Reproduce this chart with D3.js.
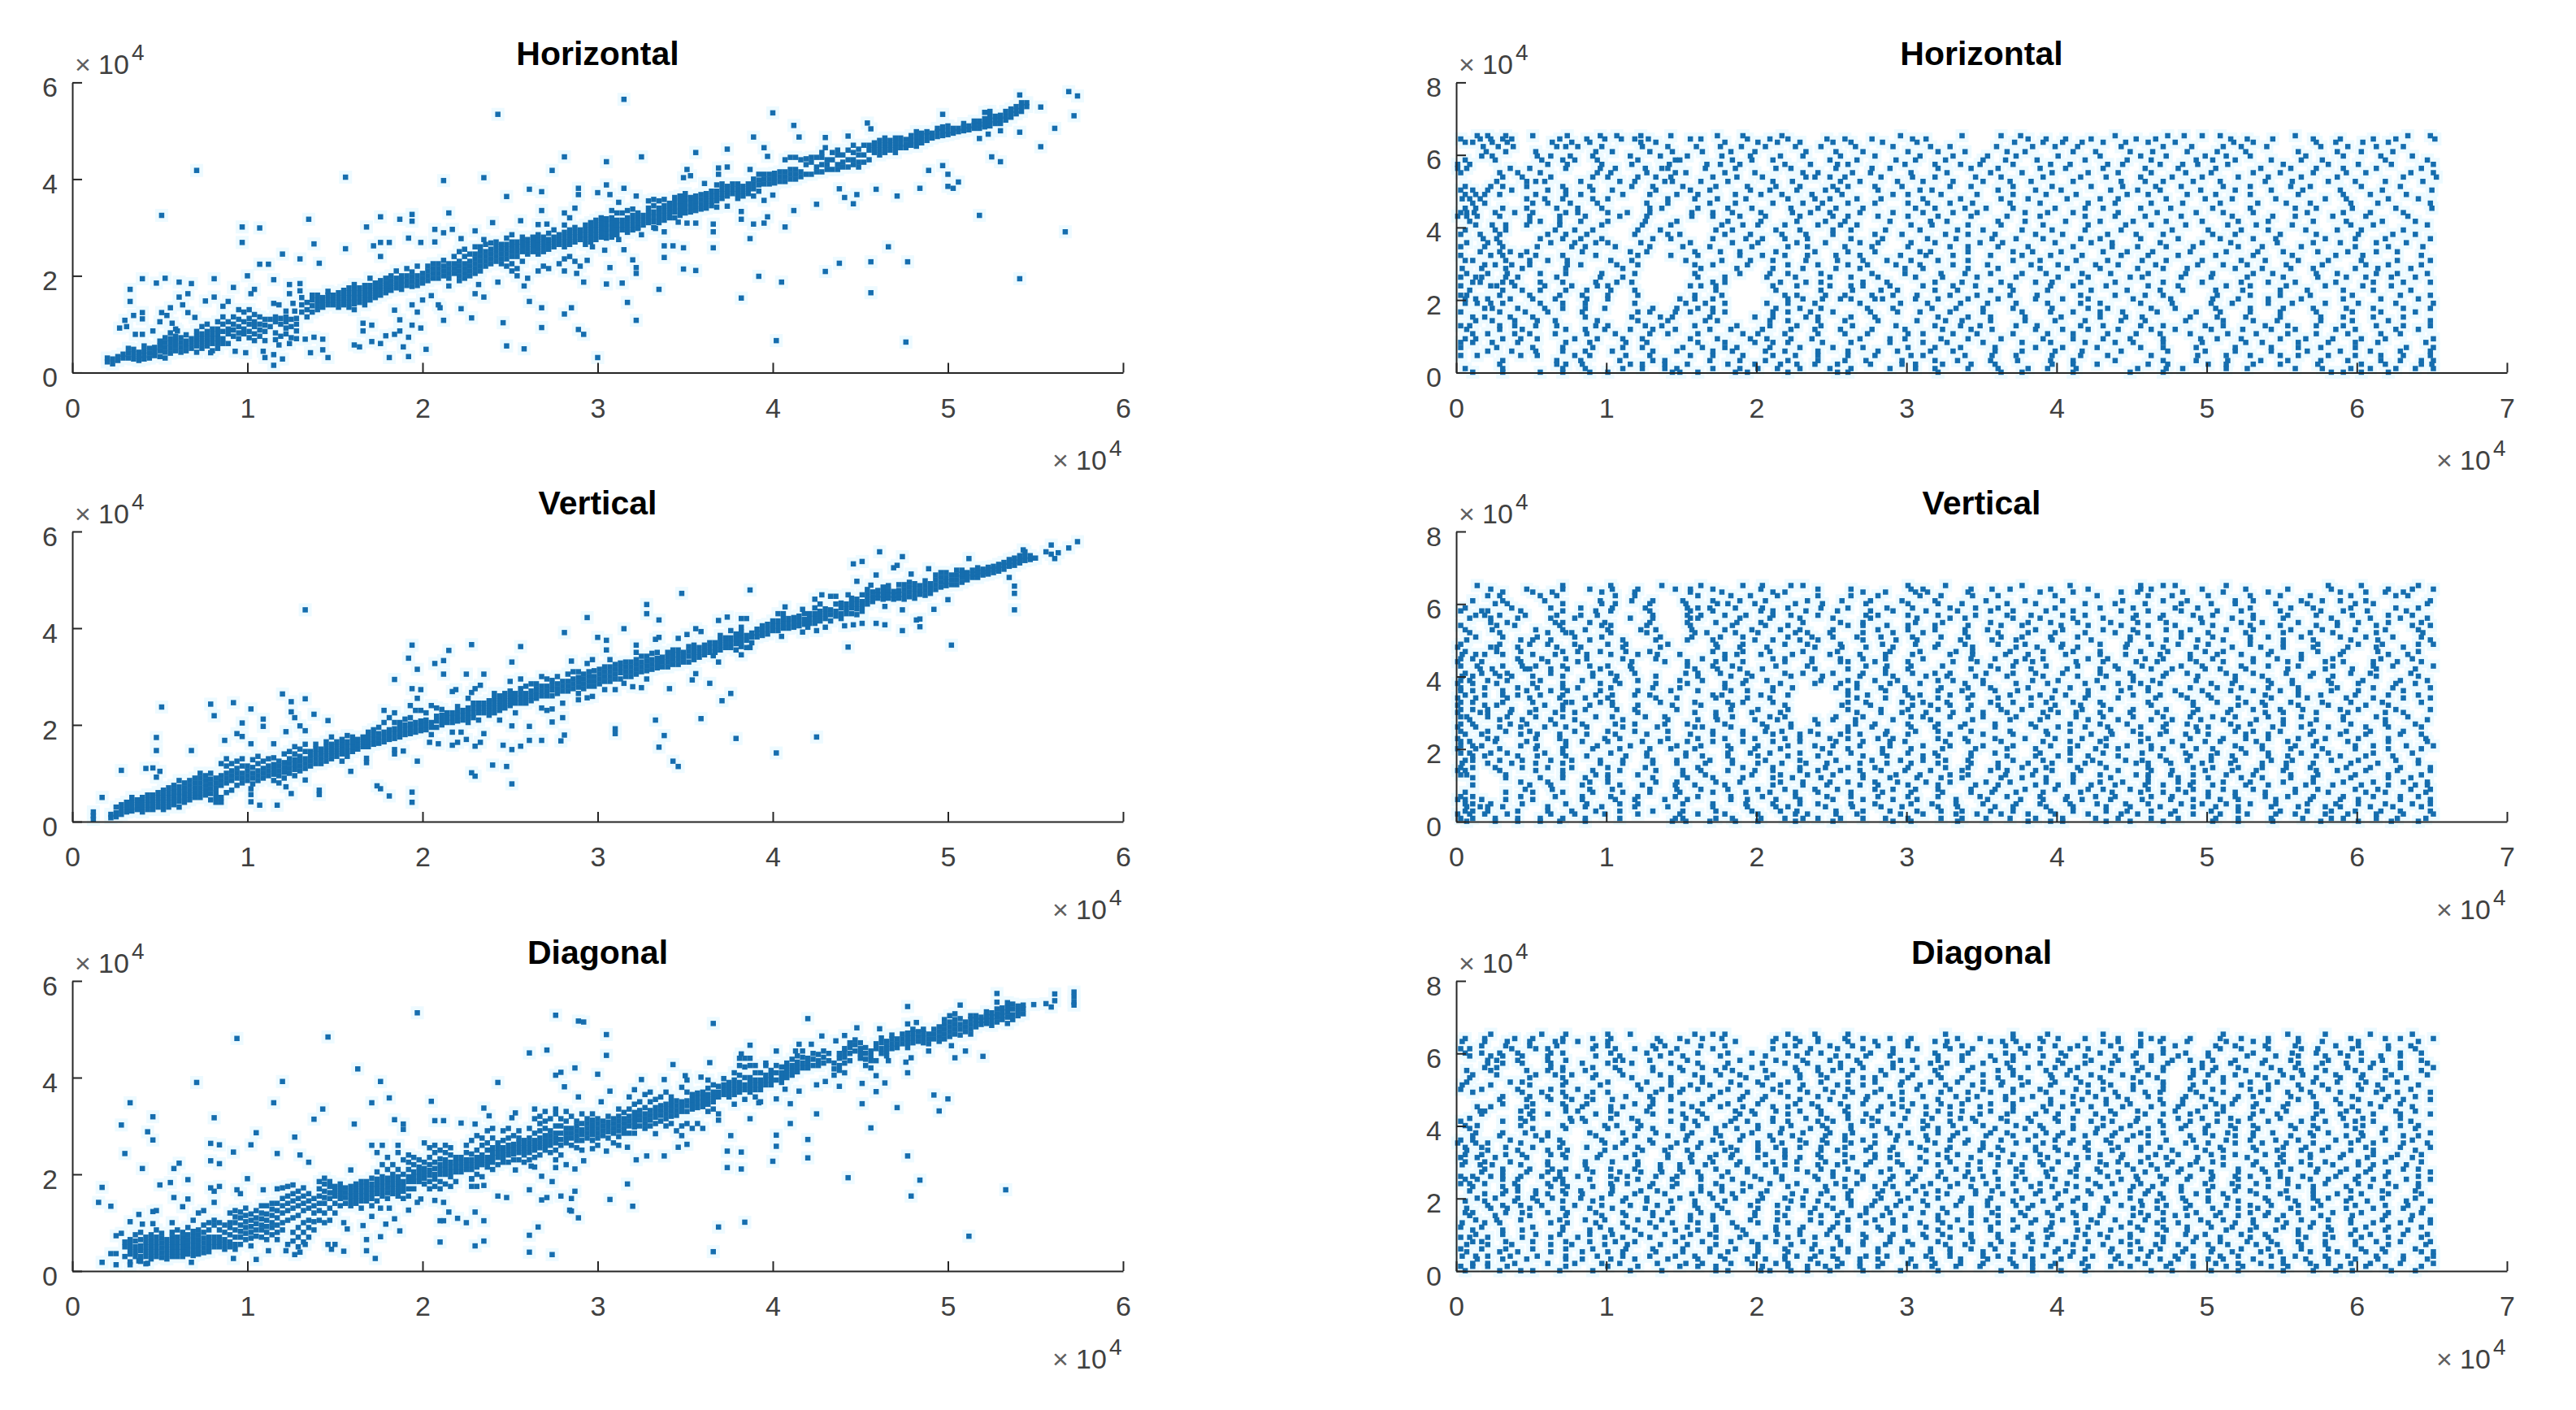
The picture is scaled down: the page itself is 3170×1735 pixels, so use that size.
<!DOCTYPE html>
<html>
<head>
<meta charset="utf-8">
<title>Horizontal, Vertical, Diagonal</title>
<script src="https://cdn.jsdelivr.net/npm/d3@7"></script>
<style>
  body { margin: 0; background: #fff; }
  svg { display: block; }
  text { font-family: "Liberation Sans", Arial, sans-serif; }
</style>
</head>
<body>
<svg id="chart" width="3170" height="1735"></svg>
<script>
// all values are in units of 10^4, same as the axis ticks
const titles = ["Horizontal", "Vertical", "Diagonal"];
const leftXTicks = [0, 1, 2, 3, 4, 5, 6];
const leftYTicks = [0, 2, 4, 6];
const rightXTicks = [0, 1, 2, 3, 4, 5, 6, 7];
const rightYTicks = [0, 2, 4, 6, 8];

// left column: dense band as [x, [y, y, ...]]
const horizontalBand = [[.2,[.22,.3]],[.23,[.18,.28]],[.26,[.25,.33]],[.29,[.3,.38]],[.32,[.3,.4,.5]],[.35,[.28,.38,.48]],[.38,[.25,.33,.42]],[.41,[.28,.36,.45,.55]],[.44,[.3,.4,.5]],[.47,[.35,.43,.52]],[.5,[.33,.45,.55,.65]],[.53,[.3,.42,.52,.62,.72]],[.56,[.4,.5,.6,.7,.82]],[.59,[.45,.55,.65,.75,.9]],[.62,[.42,.52,.62,.72]],[.65,[.45,.55,.65,.78]],[.68,[.5,.6,.7]],[.71,[.42,.55,.65,.75,.85]],[.74,[.5,.6,.7,.8,.95]],[.77,[.55,.65,.75,.85,1]],[.8,[.45,.6,.7,.8,.9]],[.83,[.5,.6,.7,.8,.9,1.05]],[.86,[.6,.7,.85,1,1.15]],[.89,[.8,.9,1.05]],[.92,[.75,.88,1,1.15]],[.95,[.7,.82,.95,1.1,1.3]],[.98,[.8,.9,1.05,1.25]],[1.01,[.72,.85,1,1.12,1.3]],[1.04,[.8,.95,1.05,1.2]],[1.07,[.75,.88,1,1.15]],[1.1,[.85,.98,1.1]],[1.13,[.95,1.1]],[1.16,[.68,.82,1.05,1.15]],[1.19,[.75,1,1.12]],[1.22,[.8,.92,1.05,1.15]],[1.25,[.72,.95,1.1]],[1.28,[.7,1,1.12]],[1.31,[1.25,1.4,1.55]],[1.34,[1.15,1.3,1.45]],[1.37,[1.25,1.38,1.5,1.6]],[1.4,[1.3,1.4,1.5,1.6]],[1.43,[1.35,1.45,1.55]],[1.46,[1.4,1.5,1.6,1.68]],[1.49,[1.4,1.5,1.6]],[1.52,[1.35,1.45,1.55,1.65]],[1.55,[1.4,1.5,1.6,1.7]],[1.58,[1.35,1.45,1.55,1.65,1.75]],[1.61,[1.3,1.42,1.52,1.62,1.72,1.82]],[1.64,[1.45,1.55,1.65,1.75]],[1.67,[1.4,1.5,1.6,1.7,1.8]],[1.7,[1.5,1.6,1.7,1.8,1.95]],[1.73,[1.55,1.65,1.75,1.85]],[1.76,[1.6,1.7,1.8,1.9]],[1.79,[1.65,1.75,1.85,1.95]],[1.82,[1.7,1.8,1.9,2]],[1.85,[1.75,1.85,1.95,2.1]],[1.88,[1.72,1.82,1.92,2]],[1.91,[1.8,1.9,2,2.15]],[1.94,[1.78,1.88,1.98,2.08]],[1.97,[1.8,1.9,2,2.2]],[2,[1.85,1.95,2.05]],[2.03,[1.9,2,2.1,2.2]],[2.06,[1.95,2.05,2.15,2.25]],[2.09,[1.95,2.05,2.15,2.25]],[2.12,[2,2.1,2.2,2.32]],[2.15,[1.95,2.05,2.15,2.25]],[2.18,[2.05,2.15,2.25,2.4]],[2.21,[1.9,2,2.1,2.2,2.3,2.5]],[2.24,[1.95,2.05,2.15,2.25,2.4,2.55]],[2.27,[2,2.1,2.2,2.3,2.45]],[2.3,[2.05,2.15,2.25,2.35,2.45,2.6]],[2.33,[2.1,2.2,2.3,2.4,2.5,2.6]],[2.36,[2.2,2.3,2.4,2.5,2.65]],[2.39,[2.25,2.35,2.45,2.55,2.68]],[2.42,[2.3,2.4,2.5,2.6,2.7]],[2.45,[2.25,2.35,2.45,2.55,2.65]],[2.48,[2.2,2.35,2.45,2.55,2.65,2.78]],[2.51,[2.1,2.25,2.4,2.5,2.6,2.7,2.85]],[2.54,[2,2.15,2.4,2.5,2.6,2.7]],[2.57,[2.3,2.5,2.6,2.7,2.8]],[2.6,[1.95,2.45,2.55,2.65,2.75]],[2.63,[2.5,2.6,2.7,2.8]],[2.66,[2.1,2.45,2.55,2.65,2.75,2.85]],[2.69,[2.2,2.5,2.6,2.7,2.8]],[2.72,[2.15,2.55,2.65,2.75,2.88]],[2.75,[2.6,2.7,2.8,2.95]],[2.78,[2.25,2.65,2.75,2.85]],[2.81,[2.1,2.35,2.6,2.7,2.8,2.9,3.05,3.3]],[2.84,[2.4,2.65,2.75,2.85,2.95,3.2]],[2.87,[2.3,2.7,2.8,2.9,3,3.4]],[2.9,[2.2,2.75,2.85,2.95]],[2.93,[2.65,2.75,2.85,2.95,3.05]],[2.96,[2.7,2.8,2.9,3,3.1]],[2.99,[2.75,2.85,2.95,3.05,3.15]],[3.02,[2.8,2.9,3,3.1,3.2]],[3.05,[2.78,2.88,2.98,3.08,3.18]],[3.08,[2.8,2.9,3,3.1,3.2,3.35]],[3.11,[2.85,2.95,3.05,3.15,3.3]],[3.14,[2.95,3.05,3.15,3.3]],[3.17,[2.9,3,3.1,3.2,3.35]],[3.2,[2.95,3.05,3.15,3.25,3.38]],[3.23,[3,3.1,3.2,3.3]],[3.26,[3.05,3.15,3.25]],[3.29,[3.1,3.2,3.3,3.4,3.55]],[3.32,[3,3.12,3.22,3.32,3.45,3.58]],[3.35,[3.1,3.2,3.3,3.4,3.55]],[3.38,[3.15,3.25,3.35,3.45,3.58]],[3.41,[3.2,3.3,3.4,3.5]],[3.44,[3.2,3.32,3.42,3.52,3.62]],[3.47,[3.25,3.35,3.45,3.55,3.65]],[3.5,[3.3,3.4,3.5,3.6,3.7]],[3.53,[3.32,3.42,3.52,3.62]],[3.56,[3.35,3.45,3.55,3.65]],[3.59,[3.38,3.48,3.58,3.68]],[3.62,[3.4,3.5,3.6,3.7]],[3.65,[3.45,3.55,3.65,3.75]],[3.68,[3.42,3.55,3.65,3.75,3.88]],[3.71,[3.6,3.7,3.8,3.9]],[3.74,[3.65,3.75,3.85]],[3.77,[3.7,3.8,3.9]],[3.8,[3.6,3.7,3.8,3.9]],[3.83,[3.65,3.75,3.85]],[3.86,[3.7,3.8,3.9]],[3.89,[3.8,3.9,4]],[3.92,[3.75,3.88,3.98,4.1]],[3.95,[3.9,4,4.1]],[3.98,[3.9,4,4.1]],[4.01,[3.92,4.02,4.12]],[4.04,[3.95,4.05,4.15]],[4.07,[3.95,4.05,4.15,4.4]],[4.1,[4,4.1,4.2,4.45]],[4.13,[4,4.1,4.2,4.45]],[4.16,[4.05,4.15,4.4]],[4.19,[4.1,4.3,4.42]],[4.22,[4.1,4.35,4.45]],[4.25,[4.15,4.25,4.45]],[4.28,[4.15,4.3,4.45,4.55]],[4.31,[4.2,4.3,4.4]],[4.34,[4.2,4.4,4.55]],[4.37,[4.2,4.3,4.5,4.6]],[4.4,[4.25,4.35,4.5]],[4.43,[4.25,4.4,4.6]],[4.46,[4.3,4.4,4.55,4.7]],[4.49,[4.25,4.35,4.5,4.62]],[4.52,[4.35,4.5,4.7]],[4.55,[4.4,4.6,4.7]],[4.58,[4.55,4.65,4.75]],[4.61,[4.5,4.6,4.7,4.8]],[4.64,[4.55,4.65,4.75,4.85]],[4.67,[4.6,4.7,4.8]],[4.7,[4.55,4.65,4.75,4.85]],[4.73,[4.65,4.75,4.85]],[4.76,[4.65,4.72,4.82]],[4.79,[4.7,4.8,4.9]],[4.82,[4.68,4.78,4.88,4.98]],[4.85,[4.75,4.85,4.95]],[4.88,[4.8,4.9,4.98]],[4.91,[4.85,4.95]],[4.94,[4.88,4.98,5.05]],[4.97,[4.9,5,5.08]],[5,[4.92,5,5.1]],[5.03,[4.95,5.05]],[5.06,[4.98,5.05]],[5.09,[5,5.08,5.15]],[5.12,[5.02,5.1]],[5.15,[5.05,5.12,5.2]],[5.18,[5.05,5.13,5.2]],[5.21,[5.08,5.15,5.25,5.38]],[5.24,[5.1,5.2,5.3,5.4]],[5.27,[5.15,5.22,5.3]],[5.3,[5.15,5.25,5.32]],[5.33,[5.22,5.3,5.4]],[5.36,[5.28,5.36,5.45]],[5.39,[5.35,5.42,5.5]],[5.42,[5.4,5.5,5.58]],[5.45,[5.5,5.58]]];

const verticalBand = [[.12,[.05,.12,.2]],[.22,[.08,.15]],[.25,[.1,.18,.3]],[.28,[.15,.25,.35]],[.31,[.2,.3,.4]],[.34,[.22,.3,.4,.5]],[.37,[.25,.35,.45]],[.4,[.2,.3,.4,.5]],[.43,[.25,.35,.45,.55]],[.46,[.25,.35,.45,.55]],[.49,[.3,.4,.5,.6]],[.52,[.25,.35,.45,.55,.65]],[.55,[.3,.4,.5,.6,.7]],[.58,[.35,.45,.55,.65,.75]],[.61,[.3,.42,.52,.62,.72,.85]],[.64,[.4,.5,.6,.7,.8]],[.67,[.45,.55,.65,.75,.85]],[.7,[.5,.6,.7,.8,.9]],[.73,[.5,.6,.7,.8,.9,1]],[.76,[.55,.65,.75,.85,.95]],[.79,[.45,.58,.68,.78,.88,1]],[.82,[.4,.5,.6,.7,.8,.9]],[.85,[.4,.5,.75,.85,.95,1.2]],[.88,[.6,.8,.9,1,1.15,1.3]],[.91,[.65,.85,.95,1.05,1.2]],[.94,[.75,.9,1,1.1,1.25]],[.97,[.8,.9,1,1.15,1.3]],[1,[.85,.95,1.05,1.15]],[1.03,[.78,.9,1,1.12,1.28]],[1.06,[.85,.95,1.05,1.2,1.35]],[1.09,[.9,1,1.1,1.25]],[1.12,[.95,1.05,1.15,1.3]],[1.15,[.85,.98,1.08,1.18,1.32]],[1.18,[.8,.95,1.05,1.15,1.25]],[1.21,[.9,1.02,1.12,1.22,1.4]],[1.24,[1,1.1,1.2,1.3,1.45]],[1.27,[.95,1.08,1.18,1.28,1.4,1.55]],[1.3,[1.05,1.15,1.25,1.35,1.5]],[1.33,[1.1,1.2,1.3,1.45,1.6]],[1.36,[1.15,1.25,1.35,1.45]],[1.39,[1.2,1.3,1.4,1.5,1.6]],[1.42,[1.2,1.3,1.4,1.5]],[1.45,[1.25,1.35,1.45,1.55,1.65]],[1.48,[1.3,1.4,1.5,1.6,1.75]],[1.51,[1.35,1.45,1.55,1.65]],[1.54,[1.25,1.4,1.5,1.6,1.7]],[1.57,[1.35,1.45,1.55,1.65,1.78]],[1.6,[1.45,1.55,1.65,1.75]],[1.63,[1.5,1.6,1.7]],[1.66,[1.55,1.65,1.75]],[1.69,[1.55,1.65,1.75,1.85]],[1.72,[1.6,1.7,1.8,1.9]],[1.75,[1.62,1.72,1.82,1.95]],[1.78,[1.65,1.75,1.85,2.05,2.3]],[1.81,[1.7,1.8,1.9,2.15]],[1.84,[1.72,1.82,1.92,2.05,2.25]],[1.87,[1.75,1.85,1.95,2.05]],[1.9,[1.8,1.9,2,2.12]],[1.93,[1.82,1.92,2.02,2.15,2.4]],[1.96,[1.85,1.95,2.05,2.3]],[1.99,[1.88,1.98,2.08,2.3]],[2.02,[1.9,2,2.1,2.25]],[2.05,[1.8,1.95,2.05,2.4]],[2.08,[1.95,2.08,2.18,2.35]],[2.11,[2,2.1,2.2,2.32]],[2.14,[2.05,2.15,2.25]],[2.17,[2.05,2.15,2.25]],[2.2,[2.08,2.18,2.28,2.38]],[2.23,[2.1,2.2,2.3]],[2.26,[2.05,2.15,2.25,2.35,2.55]],[2.29,[2.15,2.25,2.35,2.45]],[2.32,[2.1,2.25,2.35,2.45]],[2.35,[2.25,2.35,2.45]],[2.38,[2.2,2.3,2.4,2.5]],[2.41,[2.25,2.35,2.45,2.55,2.65]],[2.44,[2.1,2.3,2.4,2.5,2.6]],[2.47,[2.35,2.45,2.55,2.65]],[2.5,[2.4,2.5,2.6,2.7,2.9]],[2.53,[2.25,2.45,2.55,2.65]],[2.56,[2.45,2.55,2.65,2.75,2.95]],[2.59,[2.45,2.55,2.65,2.8]],[2.62,[2.5,2.6,2.7,2.85]],[2.65,[2.55,2.65,2.75,2.85]],[2.68,[2.35,2.6,2.7,2.8,3]],[2.71,[2.3,2.6,2.7,2.8,2.95]],[2.74,[2.6,2.72,2.82,2.92]],[2.77,[2.65,2.75,2.85,3]],[2.8,[2.15,2.45,2.7,2.8,2.9]],[2.83,[2.7,2.8,2.9,3.05]],[2.86,[2.75,2.85,2.95,3.1]],[2.89,[2.65,2.78,2.88,2.98,3.1]],[2.92,[2.75,2.85,2.95,3.05]],[2.95,[2.8,2.9,3,3.1]],[2.98,[2.8,2.9,3,3.12]],[3.01,[2.85,2.95,3.05,3.15]],[3.04,[2.9,3,3.1,3.2]],[3.07,[2.9,3,3.1,3.2,3.35]],[3.1,[2.95,3.05,3.15,3.25]],[3.13,[2.95,3.08,3.18,3.28]],[3.16,[3,3.1,3.2,3.3]],[3.19,[3,3.1,3.2,3.3]],[3.22,[3.05,3.15,3.25,3.35,3.5]],[3.25,[3.1,3.2,3.3,3.42]],[3.28,[2.95,3.12,3.22,3.32,3.42]],[3.31,[3.15,3.25,3.35,3.48]],[3.34,[3.18,3.28,3.38,3.5]],[3.37,[3.2,3.3,3.4]],[3.4,[3.2,3.3,3.4,3.5]],[3.43,[3.25,3.35,3.45,3.55]],[3.46,[3.25,3.35,3.45,3.55]],[3.49,[3.3,3.4,3.5]],[3.52,[3.3,3.42,3.52,3.62]],[3.55,[3.35,3.45,3.55,3.65]],[3.58,[3.4,3.5,3.6]],[3.61,[3.45,3.55,3.65]],[3.64,[3.5,3.6,3.7]],[3.67,[3.5,3.6,3.7]],[3.7,[3.55,3.65,3.75,3.85]],[3.73,[3.6,3.7,3.8]],[3.76,[3.6,3.7,3.8,3.95]],[3.79,[3.55,3.68,3.78,3.88]],[3.82,[3.62,3.72,3.82,3.92,4.02]],[3.85,[3.6,3.75,3.85]],[3.88,[3.7,3.82,3.9]],[3.91,[3.82,3.9,3.98]],[3.94,[3.85,3.95,4.05]],[3.97,[3.88,3.98,4.08]],[4,[3.95,4.05,4.15]],[4.03,[3.95,4.05,4.15,4.3]],[4.06,[4,4.1,4.2,4.3]],[4.09,[4,4.1,4.2]],[4.12,[4.02,4.12,4.22]],[4.15,[4.05,4.15,4.25]],[4.18,[4.08,4.18,4.3]],[4.21,[4.1,4.2,4.3]],[4.24,[4.1,4.2,4.3,4.42,4.6]],[4.27,[4.15,4.25,4.35,4.5]],[4.3,[4.2,4.3,4.4]],[4.33,[4.15,4.28,4.38]],[4.36,[4.25,4.35,4.5]],[4.39,[4.2,4.3,4.42,4.52]],[4.42,[4.3,4.4,4.5]],[4.45,[4.3,4.42,4.52,4.62]],[4.48,[4.28,4.4,4.5,4.6]],[4.51,[4.35,4.45,4.55]],[4.54,[4.5,4.6,4.7,4.8]],[4.57,[4.55,4.65,4.75]],[4.6,[4.62,4.7,4.78]],[4.63,[4.6,4.68,4.76,4.85]],[4.66,[4.62,4.7,4.78,4.88]],[4.69,[4.6,4.68,4.76]],[4.72,[4.62,4.7,4.78,4.9]],[4.75,[4.6,4.7,4.8,4.9]],[4.78,[4.65,4.75,4.85,4.95]],[4.81,[4.62,4.72,4.82,4.92]],[4.84,[4.7,4.78,4.88]],[4.87,[4.68,4.78,4.88,4.98]],[4.9,[4.72,4.82,4.92]],[4.93,[4.8,4.9,5,5.1]],[4.96,[4.85,4.95,5.05,5.15]],[4.99,[4.88,4.96,5.05,5.15]],[5.02,[4.9,5,5.1]],[5.05,[4.9,5,5.1,5.2]],[5.08,[4.95,5.05,5.12,5.2]],[5.11,[5,5.08,5.15]],[5.14,[5.05,5.12,5.2]],[5.17,[5.05,5.12,5.18,5.25]],[5.2,[5.1,5.16,5.22]],[5.23,[5.12,5.2,5.26]],[5.26,[5.15,5.22,5.28]],[5.29,[5.18,5.25,5.32]],[5.32,[5.22,5.3,5.36]],[5.35,[5.28,5.35,5.42]],[5.38,[5.3,5.38,5.45]],[5.41,[5.35,5.42,5.5]],[5.44,[5.4,5.48,5.58]],[5.47,[5.42,5.5]],[5.5,[5.45]]];

const diagonalBand = [[.3,[.3,.5,.6]],[.33,[.35,.45,.55,.65]],[.36,[.3,.4,.5,.62,.75]],[.39,[.2,.3,.42,.52,.65,.8]],[.42,[.15,.3,.4,.5,.6,.7]],[.45,[.25,.35,.45,.55,.65,.75]],[.48,[.3,.4,.5,.6,.7,.85]],[.51,[.28,.38,.48,.58,.68,.78]],[.54,[.25,.35,.45,.55,.65]],[.57,[.3,.4,.5,.6,.7,.8,1]],[.6,[.3,.4,.5,.6,.7,.85]],[.63,[.3,.4,.5,.6,.7,.8]],[.66,[.35,.45,.55,.65,.75,.9]],[.69,[.32,.42,.52,.62,.72,.82,1.05]],[.72,[.35,.45,.55,.65,.75,.85,1.2]],[.75,[.38,.48,.58,.68,.8,.95,1.25]],[.78,[.4,.5,.6,.7,.85,1]],[.81,[.5,.6,.7,.95,1.05]],[.84,[.5,.6,.7,.85,1]],[.87,[.45,.55,.65,.8,.95]],[.9,[.5,.6,.75,.9,1,1.2]],[.93,[.45,.55,.7,.85,1,1.12,1.25]],[.96,[.55,.7,.82,.95,1.1,1.22]],[.99,[.65,.78,.9,1.02,1.15,1.3]],[1.02,[.68,.8,.92,1.05,1.18]],[1.05,[.72,.85,.98,1.1,1.25]],[1.08,[.7,.85,.95,1.08,1.2,1.35]],[1.11,[.65,.8,.92,1.05,1.18,1.35]],[1.14,[.75,.9,1,1.15,1.28,1.4]],[1.17,[.8,.95,1.1,1.25,1.4,1.7]],[1.2,[.85,1,1.2,1.35,1.5,1.72]],[1.23,[.55,1.05,1.25,1.4,1.55,1.75]],[1.26,[.62,.8,1.1,1.3,1.45,1.6,1.78]],[1.29,[.5,.7,.9,1.15,1.35,1.5,1.65]],[1.32,[.6,.8,1,1.25,1.4,1.55,1.72]],[1.35,[.7,.9,1.05,1.3,1.45,1.6]],[1.38,[.85,1.02,1.2,1.35,1.5]],[1.41,[1.05,1.25,1.4,1.55,1.7,1.85]],[1.44,[1,1.2,1.4,1.52,1.65,1.8,1.92]],[1.47,[1.05,1.3,1.5,1.62,1.75,1.85]],[1.5,[1.2,1.4,1.55,1.65,1.75]],[1.53,[1.35,1.5,1.6,1.7,1.8]],[1.56,[1.4,1.52,1.62,1.72]],[1.59,[1.35,1.45,1.55,1.65,1.75]],[1.62,[1.4,1.5,1.6,1.7,1.8]],[1.65,[1.3,1.45,1.55,1.65,1.75,1.85]],[1.68,[1.45,1.55,1.65,1.75,1.85]],[1.71,[1.35,1.5,1.6,1.7,1.8,1.92,2.6]],[1.74,[1.45,1.6,1.7,1.8,1.9,2.05,2.45]],[1.77,[1.55,1.65,1.75,1.85,1.95,2.2,2.6]],[1.8,[1.5,1.62,1.72,1.82,1.92,2.1,2.35]],[1.83,[1.6,1.7,1.8,1.9,2,2.2]],[1.86,[1.55,1.65,1.75,1.85,1.95,2.1,2.45,2.6]],[1.89,[1.5,1.65,1.75,1.85,2,2.3]],[1.92,[1.55,1.7,1.85,1.95,2.1,2.25,2.4]],[1.95,[1.7,1.85,1.95,2.05,2.2,2.35]],[1.98,[1.85,1.95,2.05,2.15,2.3]],[2.01,[1.8,1.92,2.02,2.12,2.25,2.65]],[2.04,[1.7,1.85,1.98,2.08,2.2,2.35,2.55]],[2.07,[1.75,1.9,2,2.12,2.25,2.45,2.6]],[2.1,[1.7,1.85,2,2.1,2.2,2.32,2.5]],[2.13,[1.8,2,2.1,2.2,2.3,2.45,2.6]],[2.16,[1.75,1.95,2.05,2.15,2.25,2.4,2.55]],[2.19,[1.85,2.05,2.15,2.25,2.35]],[2.22,[2.05,2.15,2.25,2.35]],[2.25,[2.1,2.2,2.3,2.45,2.6]],[2.28,[1.75,1.9,2.1,2.2,2.3,2.42,2.7]],[2.31,[1.75,2,2.15,2.25,2.35,2.5,2.8]],[2.34,[1.95,2.2,2.3,2.4,2.6,2.75]],[2.37,[2.15,2.25,2.35,2.5,2.65,2.9]],[2.4,[2.1,2.25,2.35,2.45,2.55,2.75,2.95]],[2.43,[2.2,2.35,2.45,2.55,2.65]],[2.46,[2.25,2.35,2.45,2.55,2.7,2.9]],[2.49,[2.25,2.4,2.5,2.6,2.75,2.95]],[2.52,[2.3,2.42,2.52,2.62,2.8]],[2.55,[2.3,2.45,2.55,2.65,2.75,2.9]],[2.58,[2.25,2.4,2.5,2.6,2.7]],[2.61,[2.3,2.45,2.55,2.65,2.75,2.95]],[2.64,[2.15,2.35,2.5,2.6,2.7,2.85,3.15,3.35]],[2.67,[2.4,2.55,2.65,2.75,2.9,3.05,3.2]],[2.7,[2.5,2.6,2.7,2.8,2.95,3.1,3.3]],[2.73,[2.45,2.6,2.7,2.8,2.9,3.15]],[2.76,[2.3,2.5,2.65,2.75,2.85,3,3.25,3.35]],[2.79,[2.4,2.6,2.72,2.85,3,3.15]],[2.82,[2.2,2.65,2.75,2.85,2.95,3.1,3.3]],[2.85,[2.6,2.75,2.85,2.95,3.2]],[2.88,[2.55,2.7,2.8,2.9,3,3.1]],[2.91,[2.5,2.7,2.82,2.92,3.05,3.25]],[2.94,[2.75,2.85,2.95,3.05,3.15]],[2.97,[2.7,2.82,2.92,3.02,3.12,3.25]],[3,[2.6,2.75,2.85,2.95,3.05,3.15]],[3.03,[2.8,2.9,3,3.1]],[3.06,[2.75,2.88,2.98,3.08,3.2]],[3.09,[2.65,2.85,2.95,3.05,3.15]],[3.12,[2.6,2.78,2.9,3,3.1,3.2,3.35]],[3.15,[2.85,2.95,3.05,3.15,3.28]],[3.18,[2.85,3,3.1,3.2,3.35,3.6]],[3.21,[2.85,2.98,3.08,3.18,3.28,3.45,3.75]],[3.24,[3,3.12,3.22,3.32,3.5]],[3.27,[2.95,3.05,3.15,3.25,3.38,3.65]],[3.3,[3,3.12,3.22,3.32,3.5,3.7]],[3.33,[3.05,3.18,3.28,3.38,3.55]],[3.36,[3.1,3.22,3.32,3.42,3.6]],[3.39,[3,3.15,3.25,3.35,3.45,3.7]],[3.42,[3.05,3.2,3.3,3.4,3.5,3.6]],[3.45,[2.9,3.22,3.32,3.42,3.52]],[3.48,[2.8,3,3.3,3.4,3.5,3.8]],[3.51,[3.05,3.3,3.42,3.52,3.7,3.95]],[3.54,[2.95,3.35,3.45,3.55,3.65]],[3.57,[3.05,3.38,3.48,3.58,3.68]],[3.6,[2.95,3.4,3.5,3.6,3.7]],[3.63,[3.3,3.45,3.55,3.65,3.78,3.95]],[3.66,[3.35,3.5,3.6,3.7,3.85]],[3.69,[3.25,3.6,3.7,3.82]],[3.72,[3.65,3.75,3.85,3.98]],[3.75,[3.6,3.7,3.8,3.9]],[3.78,[3.45,3.65,3.75,3.85,3.95,4.1]],[3.81,[3.7,3.8,3.9,4.05,4.25,4.4]],[3.84,[3.55,3.75,3.85,4,4.22,4.4]],[3.87,[3.7,3.8,3.9,4,4.25,4.4]],[3.9,[3.6,3.75,3.85,3.95,4.1,4.25]],[3.93,[3.5,3.75,3.85,3.95,4.1]],[3.96,[3.85,3.95,4.05,4.25,4.3]],[3.99,[3.85,3.95,4.05,4.15]],[4.02,[3.95,4.1,4.25]],[4.05,[3.9,4,4.1,4.22]],[4.08,[4,4.1,4.2,4.3]],[4.11,[4.05,4.15,4.25,4.38]],[4.14,[4.12,4.22,4.32,4.45]],[4.17,[4.2,4.3,4.42,4.55]],[4.2,[4.2,4.3,4.4]],[4.23,[4.25,4.38,4.5]],[4.26,[4.25,4.35,4.48]],[4.29,[4.3,4.42,4.55]],[4.32,[4.35,4.5]],[4.35,[4.05,4.18,4.3]],[4.38,[4.15,4.25,4.4,4.5]],[4.41,[4.1,4.3,4.42,4.52,4.6]],[4.44,[4.35,4.5,4.62,4.72]],[4.47,[4.55,4.68,4.78]],[4.5,[4.4,4.5,4.6,4.72]],[4.53,[4.25,4.38,4.5,4.62]],[4.56,[4.2,4.35,4.45,4.55]],[4.59,[4.35,4.6,4.7]],[4.62,[4.5,4.6,4.72,4.82]],[4.65,[4.45,4.55,4.65,4.75]],[4.68,[4.6,4.7,4.8,4.88]],[4.71,[4.62,4.7,4.8]],[4.74,[4.7,4.8,4.9]],[4.77,[4.62,4.72,4.82,4.92]],[4.8,[4.72,4.82,4.92,5]],[4.83,[4.75,4.85,4.95]],[4.86,[4.72,4.82,4.92,5]],[4.89,[4.55,4.7,4.8,4.9]],[4.92,[4.8,4.9,5]],[4.95,[4.75,4.85,4.95,5.05]],[4.98,[4.8,4.9,5,5.1,5.2]],[5.01,[4.85,4.95,5.05,5.15,5.28]],[5.04,[4.9,5,5.1,5.2,5.32]],[5.07,[4.88,5,5.1,5.22]],[5.1,[4.95,5.05,5.15]],[5.13,[4.9,5,5.1,5.2,5.28]],[5.16,[5.05,5.12,5.2,5.28]],[5.19,[5.1,5.18,5.25]],[5.22,[5.12,5.2,5.28,5.36]],[5.25,[5.08,5.18,5.26,5.34]],[5.28,[5.15,5.25,5.32,5.42]],[5.31,[5.2,5.28,5.36,5.44]],[5.34,[5.12,5.25,5.35,5.45,5.55]],[5.37,[5.2,5.3,5.42,5.52]],[5.4,[5.28,5.38,5.48]],[5.43,[5.32,5.42,5.5]]];

// left column: points away from the band as [x, y]
const horizontalStray = [[.71,4.18],[.51,3.25],[2.43,5.34],[2.81,4.46],[1.56,4.04],[2.12,3.97],[2.35,4.03],[2.74,4.18],[2.48,3.64],[2.61,3.79],[2.68,3.74],[2.68,3.35],[1.35,3.17],[.97,3.01],[1.07,2.99],[.97,2.69],[1.68,3.01],[1.76,3.22],[1.87,3.17],[1.94,3.27],[1.94,3.13],[2.15,3.3],[2.4,3.1],[2.56,3.14],[2.66,3.06],[2.71,3.07],[2.07,2.96],[2.12,2.89],[2.17,2.96],[2.3,2.93],[1.38,2.66],[1.2,2.45],[1.3,2.35],[1.41,2.26],[1.07,2.24],[1.12,2.24],[1.56,2.56],[1.92,2.78],[1.99,2.69],[2.07,2.7],[1.81,2.69],[1.72,2.62],[1.76,2.69],[1.76,2.4],[2.22,2.77],[2.35,2.75],[.4,1.94],[.48,1.85],[.53,1.95],[.61,1.87],[.68,1.84],[.81,1.94],[.33,1.72],[.33,1.47],[1,2],[.92,1.76],[1.04,1.72],[1.02,1.63],[1.15,1.92],[1.24,1.82],[1.3,1.84],[1.24,1.63],[1.3,1.69],[.61,1.56],[.66,1.63],[.63,1.4],[.76,1.48],[.81,1.56],[.89,1.47],[.86,1.37],[.35,1.18],[.4,1.24],[.4,1.11],[.3,1.08],[.27,.92],[.31,.95],[.51,1.24],[.56,1.34],[.54,1.18],[.66,1.24],[.7,1.14],[1.15,1.43],[1.18,1.4],[1.22,1.27],[1.26,1.43],[1.27,1.27],[.36,.79],[.4,.79],[.46,.86],[.5,1.05],[.57,1.02],[.6,.86],[.89,.6],[.93,.44],[.99,.41],[.79,.41],[1.04,.66],[1.1,.66],[1.09,.44],[1.1,.31],[1.15,.37],[1.15,.15],[1.2,.28],[1.18,.57],[1.24,.6],[1.28,.86],[1.33,.69],[1.38,.73],[1.43,.69],[1.36,.41],[1.43,.47],[1.46,.31],[1.66,1.02],[1.71,.98],[1.66,.86],[1.61,.57],[1.64,.53],[1.71,.64],[1.76,.6],[1.79,.76],[1.84,.79],[1.87,.86],[1.92,.73],[1.89,.53],[1.81,.31],[1.92,.33],[2.02,.48],[1.94,.98],[1.99,.92],[1.87,1.09],[1.84,1.29],[1.97,1.25],[1.94,1.4],[2,1.5],[2.05,1.59],[2.09,1.4],[2.1,1.34],[2.12,1.08],[2.22,1.32],[2.28,1.13],[2.46,1.03],[2.68,.93],[2.48,.55],[2.58,.49],[2.61,1.47],[2.68,1.34],[2.81,1.21],[2.35,1.56],[2.3,1.63],[2.43,1.87],[2.58,1.79],[2.15,1.79],[2.32,1.82],[3.15,5.65],[4,5.37],[4.12,5.11],[4.15,4.87],[3.89,4.87],[3.25,4.46],[3.56,4.55],[3.74,4.62],[3.05,4.36],[4.3,4.86],[4.3,4.65],[4.43,4.89],[4.54,5.16],[4.56,5.04],[3.95,4.65],[3.97,4.47],[4.97,5.34],[5.41,5.74],[5.69,5.81],[5.74,5.72],[5.72,5.31],[5.53,5.49],[5.61,5.05],[5.53,4.67],[5.41,4.97],[5.3,5],[5.23,4.93],[5.18,4.84],[5.25,4.46],[5.3,4.36],[4.89,4.18],[4.97,4.28],[5,4.1],[5,3.85],[5.03,3.81],[5.06,3.94],[4.84,3.81],[4.71,3.65],[4.59,3.79],[4.48,3.68],[4.38,3.8],[4.41,3.62],[4.46,3.49],[4.25,3.48],[4.12,3.35],[5.18,3.25],[5.67,2.91],[4.66,2.6],[4.56,2.29],[4.77,2.29],[4.38,2.26],[4.3,2.09],[4.56,1.65],[5.41,1.94],[3.92,1.99],[4.05,1.87],[3.82,1.54],[4.76,.63],[4.02,.66],[3,.31],[3.22,1.08],[3.17,1.45],[2.92,.79],[2.89,.89],[2.85,1.34],[3.35,1.72],[3.14,1.85],[3.05,1.83],[2.92,1.87],[2.88,2.05],[3.22,2.05],[3.22,2.17],[3.07,2.17],[3.2,2.33],[2.94,2.32],[3.49,2.14],[3.56,2.11],[3.38,2.38],[3.15,2.54],[3.04,2.53],[2.97,2.6],[3.38,2.62],[3.43,2.62],[3.49,2.58],[3.66,2.58],[3.87,2.77],[3.66,2.91],[4.07,3.01],[3.89,3.07],[3.95,3.09],[3.97,3.22],[3.82,3.17],[3.82,3.33],[3.74,3.44],[4,3.67],[3.95,3.56],[3.89,3.65],[3.25,2.85],[3.23,2.98],[3.12,2.75],[3.38,2.91],[3.33,2.98],[3.46,3.11],[3.51,3.09],[3.56,3.09],[3.66,3.07],[3.15,3.81],[3.05,3.88],[3,3.72],[3.07,3.68],[2.89,3.81],[2.89,3.68],[3.53,4.07],[3.49,4.03],[3.51,4.2],[3.61,3.91],[3.69,4.23],[3.74,4.25],[3.69,4.1],[3.87,4.2],[3.12,3.52],[3.22,3.65]];

const verticalStray = [[1.33,4.38],[2.81,3.91],[1.94,3.65],[1.92,3.38],[2.15,3.54],[2.28,3.66],[2.56,3.62],[2.07,3.27],[2.12,3.33],[2.51,3.3],[1.97,3.15],[2.12,3.05],[2.25,3.05],[2.35,3.05],[1.84,2.94],[1.94,2.75],[1.99,2.73],[1.97,2.55],[2.19,2.73],[2.17,2.69],[2.33,2.82],[2.3,2.75],[2.28,2.67],[1.2,2.64],[1.25,2.48],[1.33,2.54],[.79,2.43],[.92,2.46],[.51,2.37],[1.02,2.33],[.81,2.19],[1.38,2.22],[1.25,2.27],[1.27,2.15],[1.09,2.12],[1.09,1.97],[.97,2.04],[1.46,2.09],[1.3,1.98],[1.33,1.88],[1.22,1.86],[.94,1.82],[.97,1.76],[.87,1.68],[.48,1.74],[.48,1.47],[.68,1.47],[1.02,1.61],[1.15,1.61],[.28,1.06],[.42,1.1],[.46,1.11],[.5,1.04],[.48,.92],[.17,.5],[1.02,.68],[1.02,.56],[1.02,.41],[1.07,.34],[1.17,.34],[1.25,.58],[1.22,.72],[1.33,.86],[1.41,.65],[1.41,.56],[1.59,1.04],[1.68,1.31],[1.68,1.22],[1.74,.74],[1.76,.68],[1.81,.53],[1.94,.61],[1.94,.4],[1.97,1.25],[1.84,1.4],[1.89,1.46],[1.84,1.49],[2.04,1.64],[2.09,1.61],[2.17,1.58],[2.2,1.64],[2.17,1.85],[2.22,1.85],[2.25,1.7],[2.3,1.56],[2.33,1.64],[2.35,1.82],[2.28,1.01],[2.3,.94],[2.4,1.17],[2.48,1.14],[2.51,.78],[2.46,1.58],[2.51,1.49],[2.56,1.56],[2.61,1.68],[2.68,1.68],[2.79,1.67],[2.81,1.79],[2.61,1.97],[2.51,1.98],[2.74,2.06],[2.74,2.33],[2.94,4.22],[3.28,4.49],[3.28,4.3],[3.48,4.72],[3.87,4.79],[3.35,4.17],[3.15,3.99],[3,3.81],[3.05,3.75],[3.05,3.55],[3.56,3.99],[3.59,3.93],[3.69,4.16],[3.74,4.23],[3.82,4.2],[3.85,4.2],[3.51,3.87],[3.46,3.79],[3.35,3.81],[3.33,3.77],[3.22,3.65],[2.97,3.35],[2.94,3.27],[2.85,3.32],[4.46,5.33],[4.51,5.38],[4.61,5.58],[4.74,5.48],[4.71,5.3],[4.69,5.25],[4.59,5.1],[4.48,4.97],[4.56,4.89],[4.89,5.23],[4.79,5.12],[5.12,5.44],[5.43,5.62],[5.59,5.72],[5.74,5.79],[5.69,5.66],[5.61,5.44],[5.56,5.58],[5.63,5.56],[5.59,5.53],[5.35,5.05],[5.38,4.87],[5.38,4.72],[5.38,4.38],[5,4.59],[4.92,4.39],[4.74,4.38],[4.64,4.45],[4.84,4.19],[4.82,4.17],[4.84,4.03],[4.74,3.95],[5.02,3.65],[4.43,3.61],[4.59,4.1],[4.64,4.07],[4.51,4.1],[4.46,4.07],[4.41,4.05],[4.3,4.02],[4.25,3.95],[4.2,4.02],[4.17,3.92],[4.28,4.69],[4.33,4.66],[4.36,4.66],[4.43,4.69],[4.51,4.69],[4.07,4.44],[4.17,4.39],[4.05,3.83],[3.82,3.45],[3.87,3.6],[3.69,3.3],[3.66,3.43],[3.56,3.06],[3.54,2.93],[3.64,2.86],[3.41,2.75],[3.25,2.77],[3.2,2.79],[3.15,2.86],[3.1,2.73],[3.04,2.73],[2.97,2.59],[2.89,2.52],[2.94,2.56],[3.76,2.65],[3.71,2.5],[3.33,2.1],[3.59,2.13],[3.1,1.92],[3.1,1.82],[3.38,1.78],[3.35,1.54],[3.79,1.72],[4.25,1.75],[4.02,1.42],[3.43,1.25],[3.46,1.14]];

const diagonalStray = [[1.97,5.34],[2.76,5.29],[.94,4.81],[1.46,4.84],[2.61,4.51],[2.71,4.57],[1.63,4.18],[1.76,3.92],[1.2,3.92],[.71,3.9],[2.43,3.9],[2.79,4.11],[2.76,4.05],[2.81,3.81],[1.81,3.58],[1.71,3.48],[2.05,3.51],[.33,3.48],[1.15,3.48],[1.43,3.35],[.46,3.19],[.81,3.17],[1.38,3.14],[.28,3.02],[1.84,3.13],[1.89,3.04],[1.89,2.93],[1.61,3.04],[2.07,3.11],[2.12,3.11],[2.22,3.06],[2.3,3.04],[2.35,3.37],[2.38,3.21],[2.53,3.27],[2.51,3.17],[.43,2.88],[.46,2.71],[1.05,2.86],[1.27,2.77],[.79,2.64],[.84,2.61],[1.02,2.61],[.3,2.43],[.92,2.46],[1.17,2.43],[1.3,2.4],[1.35,2.25],[.79,2.28],[.84,2.22],[.4,2.12],[.58,2.12],[.61,2.23],[1.59,2.09],[.66,1.89],[1,1.91],[.5,1.78],[.56,1.83],[.17,1.73],[.15,1.42],[.22,1.34],[.79,1.72],[.84,1.75],[.81,1.65],[.81,1.42],[.94,1.68],[.96,1.6],[1.09,1.68],[.58,1.52],[.66,1.49],[.63,1.33],[.46,1.23],[.48,1.25],[.38,1.17],[.33,1.02],[.4,.97],[.46,.98],[.25,.73],[.28,.78],[.17,.18],[.25,.13],[.22,.36],[.25,.36],[.33,.19],[.33,.13],[.38,.21],[.43,.16],[.68,.18],[.92,.26],[1.05,.24],[1.02,.52],[1.12,.42],[1.17,.65],[1.22,.42],[1.27,.34],[1.3,.39],[1.33,.55],[1.46,.55],[1.5,.55],[1.48,.45],[1.55,.41],[1.68,.65],[1.68,.42],[1.73,.26],[1.76,.71],[1.87,.83],[1.79,.97],[1.84,1.08],[1.55,1],[1.57,.87],[1.66,.94],[1.71,1.13],[1.81,1.3],[1.76,1.3],[1.92,1.26],[1.97,1.42],[1.99,1.49],[2.07,1.46],[2.12,1.42],[2.15,1.22],[2.1,1.04],[2.12,1.04],[2.2,1.09],[2.25,1],[2.3,1.22],[2.35,1.04],[2.1,.6],[2.3,.52],[2.35,.62],[2.61,.74],[2.66,.91],[2.61,.39],[2.74,.34],[2.61,1.68],[2.43,1.55],[2.48,1.52],[2.68,1.47],[2.71,1.52],[2.79,1.55],[2.84,1.26],[2.35,1.77],[2.28,1.91],[2.53,2.09],[2.68,1.96],[2.74,1.85],[2.76,2.14],[2.62,2.17],[2.89,5.17],[2.92,5.15],[3.66,5.12],[3.05,4.89],[3.05,4.46],[4.2,5.22],[4.77,5.47],[5.28,5.74],[5.28,5.56],[5.07,5.5],[5.49,5.51],[5.61,5.73],[5.61,5.59],[5.56,5.53],[5.59,5.46],[5.72,5.77],[5.72,5.67],[5.72,5.56],[5.72,5.5],[4.48,5.03],[4.61,5.01],[4.77,5.11],[4.82,5.14],[4.28,4.86],[4.41,4.87],[4.36,4.76],[3.87,4.67],[3.82,4.49],[4.02,4.55],[4.15,4.69],[4.22,4.69],[4.13,4.55],[3.43,4.27],[3.64,4.31],[2.87,4.2],[3,4.07],[3.25,3.96],[3.38,3.96],[3.5,4.04],[3.59,4.01],[5.2,4.44],[5.04,4.41],[5.1,4.55],[5.02,4.66],[4.76,4.32],[4.79,4.41],[4.77,4.1],[4.66,4.35],[4.59,4.04],[4.64,3.89],[4.59,3.71],[4.51,3.88],[4.38,3.82],[4.3,3.92],[4.25,3.85],[4.15,3.72],[4.07,3.76],[4.92,3.64],[5,3.56],[4.95,3.31],[4.71,3.38],[4.51,3.46],[4.25,3.25],[4.1,3.46],[4.02,3.56],[3.92,3.48],[4.1,3.05],[3.87,3.15],[3.69,3.12],[4.56,2.96],[3.76,2.8],[4.02,2.81],[4.02,2.58],[4.2,2.72],[4.2,2.34],[4,2.27],[3.74,2.48],[3.82,2.46],[3.74,2.14],[3.82,2.11],[4.77,2.38],[4.43,1.93],[4.84,1.88],[4.79,1.55],[5.33,1.68],[5.12,.72],[3.84,1.01],[3.69,.91],[3.66,.4],[3.51,2.62],[3.46,2.56],[3.38,2.38],[3.28,2.38],[3.22,2.3],[3.17,2.56],[3.05,2.48],[2.97,2.53],[3.33,2.84],[2.92,2.28],[2.87,2.11],[3.17,1.8],[2.87,1.65],[3.07,1.48],[3.2,1.34],[2.89,1.1],[2.85,1.24],[2.85,1.5],[3.07,3.72],[3.02,3.5],[2.89,3.6]];

// right column: scatter as [y, [x, x, ...]]
const horizontalScatter = [[6.53,[.14,.21,.33,.51,.74,.96,1.07,1.23,1.43,1.74,1.91,2.17,2.96,3.37,3.63,3.76,4.39,4.74,4.85,4.97,5.09,5.59,6.34,6.49]],
[6.44,[.03,.16,.23,.31,.37,.69,.87,.99,1.1,1.19,1.28,1.56,1.63,1.94,2.09,2.21,2.47,2.59,2.77,3.04,3.13,3.81,3.93,4.06,4.23,4.53,4.66,5.16,5.27,5.44,5.71,5.89,6.11,6.26,6.52]],
[6.35,[.06,.11,.24,.34,.64,.77,.89,1.23,1.33,1.79,2.01,2.14,2.29,2.51,2.63,2.84,3.07,3.72,3.91,4.04,4.17,4.31,4.46,4.61,4.79,5.18,5.31,5.73,5.86,6.04,6.21]],
[6.23,[.18,.28,.38,.67,.73,.81,.97,1.24,1.41,1.6,1.76,1.9,2.06,2.26,2.43,2.66,2.91,3.16,3.29,3.6,3.84,3.99,4.14,4.43,4.71,4.9,5.11,5.23,5.4,5.76,5.94,6.13,6.31]],
[6.09,[.2,.33,.53,.93,1.04,1.29,1.44,1.64,1.83,1.99,2.33,2.53,2.71,3.01,3.21,3.39,3.67,3.79,4.11,4.26,4.49,4.64,4.87,5.07,5.26,5.61,5.87,6.03,6.24]],
[5.97,[.17,.24,.54,.63,.76,.91,1.16,1.36,1.54,1.77,1.96,2.16,2.31,2.56,2.79,3.09,3.31,3.54,3.73,4.01,4.29,4.56,4.73,4.99,5.13,5.29,5.66,5.91,6.16,6.37]],
[5.86,[.06,.26,.57,.71,.79,.94,1.21,1.46,1.49,1.84,1.97,2.11,2.49,2.67,2.93,3.06,3.26,3.51,3.66,3.87,4.19,4.47,4.63,4.93,5.04,5.19,5.43,5.63,5.77,6.19,6.47]],
[5.74,[.01,.09,.61,.74,.97,1.17,1.42,1.67,1.76,1.89,2.19,2.36,2.54,2.61,2.99,3.19,3.36,3.49,3.71,3.96,4.09,4.34,4.44,4.69,4.84,4.94,5.14,5.51,5.81,6.01,6.23,6.51]],
[5.63,[.01,.07,.36,.49,.73,.96,1.06,1.26,1.37,1.41,1.66,1.86,2.13,2.23,2.53,2.77,2.89,3.21,3.43,3.61,3.89,4.06,4.31,4.59,4.81,5.06,5.36,5.56,5.73,5.91,6.13,6.43]],
[5.51,[.03,.29,.41,.56,.94,1.03,1.27,1.46,1.53,1.79,1.99,2.31,2.41,2.64,2.76,3.03,3.27,3.56,3.77,3.97,4.21,4.41,4.63,4.86,5.03,5.31,5.49,5.71,5.93,6.06,6.36,6.51]],
[5.39,[.31,.44,.63,.91,1.01,1.21,1.33,1.43,1.71,1.87,2.04,2.33,2.39,2.49,2.59,2.83,3.04,3.19,3.46,3.63,3.91,4.16,4.33,4.56,4.77,4.97,5.21,5.41,5.63,5.87,6.31,6.53]],
[5.27,[.27,.47,.53,.59,.83,1.09,1.19,1.39,1.44,1.63,1.81,2.11,2.24,2.56,2.69,2.94,3.11,3.31,3.51,3.69,3.83,4.11,4.43,4.59,4.71,4.91,5.09,5.39,5.57,5.81,5.99,6.19,6.44]],
[5.13,[.06,.23,.31,.47,.71,.89,1.17,1.31,1.51,1.73,1.94,2.13,2.29,2.51,2.61,2.79,2.97,3.29,3.43,3.71,3.97,4.23,4.44,4.66,4.83,5.11,5.29,5.56,5.69,6.03,6.29]],
[5.03,[.03,.11,.21,.37,.61,.73,.91,1.04,1.33,1.56,1.69,1.96,2.09,2.27,2.46,2.54,2.81,3.09,3.17,3.61,3.86,4.03,4.36,4.54,4.69,4.96,5.19,5.43,5.64,5.89,6.17,6.5]],
[4.91,[.06,.13,.19,.29,.53,.73,.83,1.11,1.29,1.47,1.61,1.86,2.03,2.17,2.37,2.57,2.91,3.01,3.23,3.47,3.71,3.93,4.13,4.47,4.61,4.87,5.06,5.29,5.61,5.91,6.09,6.33]],
[4.79,[.04,.09,.16,.47,.59,.71,.91,1.01,1.41,1.59,1.74,1.93,2.21,2.39,2.49,2.67,2.83,3.11,3.36,3.63,3.81,4.07,4.29,4.41,4.73,4.99,5.17,5.46,5.79,5.93,6.21,6.41]],
[4.67,[.11,.19,.51,.61,.76,.94,1.27,1.41,1.69,1.86,2.11,2.31,2.44,2.61,2.79,3.01,3.14,3.29,3.44,3.69,3.89,4.21,4.39,4.63,4.84,5.09,5.34,5.53,5.69,5.96,6.14,6.49]],
[4.53,[.06,.13,.31,.47,.67,.81,.97,1.29,1.37,1.61,1.81,1.97,2.23,2.41,2.53,2.71,3.06,3.19,3.39,3.53,3.71,3.99,4.19,4.31,4.56,4.76,5.04,5.29,5.59,5.73,5.97,6.26,6.5]],
[4.41,[.03,.07,.12,.26,.39,.51,.73,.81,1.01,1.14,1.29,1.57,1.71,1.84,2.03,2.24,2.36,2.49,2.69,2.91,3.11,3.31,3.47,3.79,3.94,4.11,4.41,4.67,4.93,5.11,5.31,5.67,5.91,6.09,6.31]],
[4.31,[.01,.07,.14,.29,.49,.69,.86,1.09,1.27,1.57,1.71,1.89,2.06,2.29,2.51,2.61,2.81,3.01,3.21,3.43,3.67,3.89,4.19,4.39,4.59,4.83,5.17,5.44,5.59,5.84,6.06,6.34]],
[4.17,[.09,.49,.56,.69,.83,1.01,1.26,1.47,1.81,2.03,2.27,2.46,2.59,2.89,3.16,3.27,3.61,3.79,4.06,4.29,4.51,4.73,4.97,5.21,5.41,5.71,5.93,6.17,6.39]],
[4.07,[.13,.24,.33,.47,.69,.97,1.24,1.43,1.77,1.91,2.01,2.19,2.41,2.56,2.67,3.03,3.17,3.41,3.63,3.91,4.21,4.46,4.63,4.86,5.14,5.33,5.57,5.96,6.11,6.47]],
[3.93,[.06,.26,.33,.66,.79,.91,1.21,1.36,1.73,1.84,2.13,2.29,2.51,2.63,2.86,3.09,3.34,3.51,3.77,3.97,4.19,4.43,4.77,5.01,5.23,5.41,5.66,5.87,6.03,6.31]],
[3.81,[.03,.16,.29,.61,.73,.87,1.19,1.41,1.49,1.79,1.96,2.17,2.33,2.51,2.79,2.97,3.26,3.41,3.59,3.86,4.04,4.34,4.53,4.71,5.04,5.19,5.49,5.73,6.01,6.24,6.39]],
[3.69,[.18,.27,.56,.71,.83,.97,1.31,1.43,1.71,1.93,2.04,2.19,2.34,2.63,2.84,3.14,3.33,3.57,3.73,3.91,4.16,4.29,4.56,4.81,5.09,5.31,5.46,5.79,5.99,6.19,6.49]],
[3.58,[.07,.21,.29,.63,.79,.93,1.01,1.23,1.56,1.84,2.01,2.27,2.46,2.69,2.81,3.03,3.19,3.49,3.64,3.99,4.23,4.37,4.69,4.97,5.16,5.47,5.71,5.89,6.13,6.33]],
[3.47,[.03,.19,.31,.54,.77,.86,1.06,1.29,1.51,1.69,1.97,2.21,2.34,2.59,2.77,3.01,3.29,3.41,3.61,3.81,4.11,4.37,4.54,4.73,4.91,5.21,5.37,5.63,5.99,6.21,6.44]],
[3.33,[.16,.29,.36,.47,.84,1.16,1.27,1.59,1.76,1.89,2.13,2.39,2.61,2.79,3.09,3.16,3.41,3.71,3.84,4.03,4.31,4.47,4.64,4.89,5.13,5.34,5.51,5.74,5.94,6.13,6.27]],
[3.23,[.03,.23,.31,.43,.53,.71,.93,1.21,1.43,1.61,1.89,2.04,2.19,2.34,2.53,2.69,2.96,3.13,3.31,3.56,3.77,3.96,4.17,4.43,4.61,4.81,5.06,5.31,5.57,5.86,6.04,6.43]],
[3.09,[.06,.11,.33,.49,.61,.74,1.03,1.17,1.53,1.77,1.96,2.11,2.33,2.54,2.71,2.87,3.03,3.21,3.41,3.71,3.89,4.13,4.34,4.57,4.73,4.97,5.23,5.39,5.61,5.81,6.03,6.27,6.49]],
[2.97,[.19,.26,.37,.49,.74,.83,1.07,1.21,1.59,1.71,1.94,2.21,2.41,2.61,2.74,2.93,3.09,3.31,3.54,3.83,4.01,4.26,4.41,4.66,4.94,5.11,5.27,5.53,5.77,6.06,6.21,6.43]],
[2.87,[.04,.17,.33,.44,.73,1.11,1.63,1.87,2.11,2.31,2.53,2.69,2.99,3.11,3.41,3.61,3.89,4.07,4.29,4.54,4.71,4.87,5.19,5.37,5.56,5.71,5.99,6.14,6.36]],
[2.73,[.07,.21,.34,.56,.73,.97,1.19,1.59,1.89,2.09,2.21,2.43,2.77,2.99,3.23,3.39,3.56,3.77,3.93,4.17,4.36,4.61,4.86,5.04,5.31,5.44,5.73,5.87,6.13,6.27,6.47]],
[2.63,[.03,.13,.17,.33,.41,.67,.96,1.11,1.61,1.79,2.07,2.26,2.49,2.63,2.81,3.06,3.24,3.47,3.73,4.01,4.21,4.49,4.57,4.83,5.03,5.27,5.51,5.74,5.93,6.06,6.23,6.39]],
[2.49,[.11,.16,.31,.37,.56,.71,.93,1.07,1.17,1.71,1.79,2.16,2.33,2.43,2.71,2.87,3.19,3.37,3.63,3.86,3.97,4.16,4.39,4.71,4.97,5.23,5.41,5.59,5.86,6.11,6.31,6.49]],
[2.39,[.03,.23,.27,.39,.59,.77,.94,1.01,1.56,1.63,1.73,2.11,2.27,2.49,2.63,2.71,2.89,3.11,3.31,3.46,3.69,3.96,4.11,4.33,4.61,4.81,5.13,5.29,5.53,5.79,6.04,6.23]],
[2.27,[.09,.31,.44,.56,.73,.87,1.03,1.19,1.73,2.13,2.43,2.64,2.83,2.94,3.19,3.34,3.56,3.71,3.94,4.23,4.47,4.69,4.84,5.06,5.24,5.49,5.67,5.91,6.11,6.36]],
[2.13,[.03,.07,.29,.49,.69,.84,1.01,1.21,1.59,1.77,2.19,2.27,2.46,2.59,2.77,2.91,3.07,3.29,3.47,3.69,3.87,4.16,4.39,4.59,4.71,5.07,5.29,5.49,5.69,5.97,6.29,6.49]],
[2.03,[.06,.13,.21,.36,.51,.66,.87,1.01,1.49,1.59,1.71,2.21,2.31,2.44,2.56,2.63,2.79,2.84,3.06,3.21,3.41,3.61,3.86,4.04,4.21,4.51,4.76,5.04,5.21,5.41,5.63,5.91,6.16,6.41]],
[1.91,[.06,.14,.23,.31,.56,.71,.86,1.19,1.53,1.66,1.79,2.07,2.21,2.39,2.69,2.96,3.14,3.36,3.54,3.73,3.94,4.16,4.29,4.56,4.77,5.03,5.17,5.41,5.57,5.79,6.01,6.26,6.51]],
[1.77,[.19,.24,.41,.59,.71,.86,.99,1.31,1.47,1.61,1.71,2.13,2.29,2.43,2.74,2.91,3.17,3.33,3.51,3.71,3.97,4.21,4.34,4.63,4.79,5.06,5.29,5.51,5.71,5.93,6.11,6.31,6.49]],
[1.67,[.03,.29,.46,.61,.84,1.21,1.29,1.46,1.56,1.71,1.79,2.11,2.21,2.36,2.51,2.76,2.94,3.09,3.29,3.51,3.77,3.96,4.11,4.29,4.44,4.67,4.93,5.09,5.29,5.49,5.73,5.97,6.16,6.39]],
[1.53,[.11,.19,.36,.51,.86,1.17,1.36,1.44,1.69,1.99,2.11,2.33,2.41,2.63,2.79,3.21,3.41,3.56,3.79,4.03,4.29,4.46,4.57,4.89,5.07,5.26,5.49,5.76,5.91,6.11,6.31]],
[1.43,[.13,.24,.39,.54,.66,.94,1.21,1.41,1.66,1.74,2.09,2.21,2.41,2.59,2.81,3.07,3.26,3.37,3.56,3.79,3.99,4.19,4.43,4.59,4.86,5.11,5.31,5.47,5.76,5.97,6.21,6.49]],
[1.29,[.03,.09,.29,.39,.53,.67,.93,1.01,1.26,1.37,1.59,1.87,2.09,2.27,2.43,2.64,2.93,3.19,3.36,3.49,3.73,3.87,4.16,4.31,4.56,4.71,4.99,5.11,5.39,5.54,5.73,5.91,6.13,6.31,6.49]],
[1.19,[.07,.29,.44,.73,.86,.99,1.16,1.31,1.46,1.69,1.83,2.04,2.23,2.39,2.56,2.77,2.99,3.24,3.43,3.57,3.86,4.04,4.21,4.41,4.63,4.79,5.03,5.24,5.43,5.59,5.86,5.99,6.26,6.41]],
[1.07,[.11,.21,.39,.49,.66,.87,1.06,1.29,1.41,1.61,1.91,2.01,2.19,2.41,2.59,2.74,3.01,3.11,3.31,3.47,3.71,3.94,4.11,4.34,4.53,4.69,4.89,5.14,5.33,5.54,5.73,5.94,6.16,6.29]],
[.93,[.06,.13,.31,.43,.54,.79,.94,1.11,1.24,1.56,1.74,1.96,2.07,2.23,2.37,2.69,2.89,2.99,3.23,3.41,3.63,3.91,4.11,4.31,4.49,4.71,4.96,5.07,5.23,5.49,5.66,5.84,6.03,6.19,6.51]],
[.83,[.03,.11,.24,.41,.73,.89,1.13,1.27,1.61,1.79,1.99,2.11,2.21,2.44,2.63,2.89,3.11,3.27,3.51,3.77,3.96,4.19,4.39,4.51,4.71,4.97,5.26,5.37,5.61,5.81,5.99,6.14,6.46]],
[.69,[.03,.27,.51,.71,.91,1.11,1.24,1.51,1.64,1.79,1.87,2.09,2.29,2.51,2.71,3.01,3.19,3.36,3.59,3.86,4.04,4.27,4.56,4.71,4.93,5.19,5.43,5.61,5.76,5.99,6.33,6.51]],
[.59,[.21,.37,.53,.71,.86,1.04,1.31,1.47,1.71,1.84,2.06,2.19,2.41,2.61,2.81,2.94,3.16,3.31,3.59,3.77,3.99,4.17,4.43,4.74,4.99,5.19,5.43,5.67,5.89,6.09,6.29,6.49]],
[.47,[.03,.14,.43,.54,.79,.89,1.13,1.29,1.56,1.71,1.91,2.11,2.26,2.41,2.61,2.79,3.03,3.11,3.39,3.57,3.73,3.97,4.16,4.34,4.63,4.94,5.13,5.29,5.49,5.61,5.81,5.99,6.16,6.31,6.49]],
[.33,[.31,.67,.83,1.09,1.31,1.39,1.69,1.89,2.06,2.21,2.41,2.59,2.73,2.97,3.19,3.34,3.56,3.74,3.96,4.11,4.39,4.71,4.93,5.14,5.36,5.54,5.76,5.94,6.16,6.29,6.43,6.51]],
[.23,[.29,.67,.73,.84,1.16,1.24,1.39,1.54,1.81,1.99,2.16,2.27,2.39,2.54,2.76,2.97,3.06,3.24,3.43,3.59,3.97,4.11,4.27,4.61,4.74,5.01,5.13,5.31,5.49,5.74,6.03,6.19,6.43,6.5]],
[.11,[.06,.31,.71,.86,1.11,1.24,1.39,1.47,1.71,1.89,2.01,2.14,2.29,2.49,2.63,2.89,3.06,3.19,3.41,3.61,3.81,3.94,4.13,4.54,4.73,4.84,5.13,5.27,5.59,5.77,5.96,6.09,6.26,6.39,6.51]],
[.01,[.11,.31,.56,.71,.89,1.01,1.44,1.49,1.61,1.86,1.94,2.21,2.54,2.61,3.21,3.63,3.77,4.11,4.49,4.71,5.83,5.91,6.03,6.21]]];

const verticalScatter = [[6.51,[.14,.71,1.03,1.37,1.63,1.91,2.04,2.23,2.31,3.01,3.26,3.77,4.09,4.56,4.71,4.79,5.13,5.81,6.03,6.41]],
[6.41,[.23,.47,.71,.89,1.04,1.21,1.46,1.56,1.71,2.03,2.41,2.63,3.03,3.11,3.43,3.57,3.69,3.96,4.21,4.56,4.63,4.97,5.26,5.54,5.83,6.21,6.37,6.51]],
[6.33,[.31,.51,.64,.97,1.19,1.56,1.77,2.11,2.19,2.71,2.86,3.06,3.14,3.41,3.89,4.11,4.43,4.54,4.84,5.11,5.41,5.89,6.06,6.19,6.31]],
[6.23,[.21,.29,.56,.67,1.06,1.19,1.61,1.83,1.96,2.14,2.41,2.63,2.81,3.09,3.23,3.44,3.61,3.99,4.27,4.61,4.77,5.01,5.29,5.49,5.69,5.96,6.26,6.34]],
[6.09,[.11,.31,.59,.96,1.17,1.31,1.51,1.71,1.89,2.06,2.34,2.57,2.76,2.97,3.19,3.53,3.79,4.04,4.44,4.71,4.87,5.19,5.31,5.63,5.77,5.89,6.06,6.49]],
[6.01,[.26,.34,.71,.97,1.06,1.29,1.53,1.74,1.81,1.99,2.26,2.44,2.73,3.01,3.21,3.37,3.67,3.86,4.19,4.39,4.59,4.83,5.03,5.19,5.46,5.67,5.99,6.11,6.47]],
[5.89,[.06,.37,.63,.83,1.04,1.26,1.54,1.61,1.69,1.86,2.04,2.21,2.43,2.61,2.87,3.04,3.29,3.46,3.61,3.99,4.29,4.51,4.79,4.94,5.29,5.56,5.71,5.96,6.26,6.41]],
[5.81,[.03,.17,.21,.43,.71,.93,1.03,1.29,1.56,1.71,2.03,2.11,2.33,2.54,2.76,2.91,3.13,3.34,3.56,3.71,3.93,4.11,4.43,4.61,4.83,5.07,5.23,5.49,5.76,5.91,6.07,6.33]],
[5.69,[.13,.19,.29,.46,.67,.83,.94,1.31,1.54,1.63,1.79,1.93,2.11,2.23,2.41,2.73,2.81,3.01,3.21,3.46,3.67,3.83,4.04,4.19,4.53,4.71,4.91,5.04,5.31,5.54,5.73,5.97,6.21,6.37]],
[5.61,[.09,.23,.41,.63,.79,1.16,1.31,1.56,1.61,1.89,2.09,2.29,2.51,2.76,3.07,3.29,3.39,3.71,3.89,4.11,4.31,4.51,4.69,4.96,5.17,5.31,5.51,5.83,6.09,6.29,6.47]],
[5.49,[.23,.34,.66,.71,.89,.99,1.29,1.54,1.73,1.87,2.03,2.31,2.56,2.71,3.06,3.24,3.56,3.81,3.96,4.14,4.36,4.54,4.73,4.97,5.23,5.37,5.61,5.87,6.01,6.21,6.43]],
[5.41,[.03,.27,.39,.69,.97,1.03,1.27,1.56,1.84,2.06,2.21,2.61,2.71,2.87,3.01,3.19,3.41,3.63,3.77,4.03,4.21,4.43,4.61,4.79,5.04,5.29,5.49,5.73,5.87,6.13,6.37,6.49]],
[5.29,[.06,.24,.53,.71,.86,1.01,1.23,1.33,1.57,1.79,1.97,2.16,2.29,2.51,2.81,3.01,3.19,3.39,3.54,3.86,4.04,4.31,4.51,4.73,4.89,5.13,5.31,5.56,5.77,5.99,6.19,6.41]],
[5.21,[.09,.29,.61,.73,.77,1.03,1.27,1.59,1.67,1.86,2.01,2.26,2.34,2.49,2.71,2.91,3.11,3.39,3.61,3.81,3.99,4.19,4.39,4.54,4.83,5.01,5.26,5.51,5.69,5.84,6.13,6.44]],
[5.09,[.13,.31,.54,.79,.97,1.36,1.57,1.76,1.91,2.21,2.37,2.51,2.67,2.83,3.04,3.23,3.41,3.63,3.77,3.96,4.14,4.49,4.61,4.83,5.04,5.29,5.41,5.63,5.89,6.06,6.24,6.43]],
[5.01,[.07,.43,.51,.63,.89,1.11,1.33,1.54,1.71,1.99,2.11,2.29,2.41,2.71,2.93,3.07,3.36,3.57,3.73,3.97,4.23,4.49,4.73,4.94,5.11,5.29,5.51,5.71,5.96,6.14,6.49]],
[4.89,[.03,.29,.49,.61,.79,1.01,1.13,1.41,1.73,1.91,2.19,2.34,2.56,2.84,3.06,3.21,3.39,3.61,3.79,4.04,4.29,4.47,4.63,4.81,5.01,5.29,5.51,5.74,6.01,6.17,6.41,6.51]],
[4.81,[.01,.23,.27,.41,.67,.83,1.11,1.36,1.74,1.89,2.07,2.39,2.57,2.73,2.91,3.19,3.44,3.73,3.87,4.03,4.14,4.46,4.71,4.93,5.17,5.36,5.51,5.71,5.94,6.13,6.31]],
[4.69,[.06,.27,.43,.71,.81,.96,1.13,1.29,1.71,1.91,2.09,2.31,2.54,2.89,3.09,3.33,3.44,3.69,3.91,4.11,4.29,4.56,4.74,4.99,5.11,5.43,5.74,5.91,6.14,6.41]],
[4.61,[.04,.13,.19,.31,.51,.66,.87,1.03,1.21,1.34,1.49,1.79,1.87,2.03,2.24,2.49,2.69,2.86,3.04,3.29,3.44,3.66,3.81,4.06,4.29,4.46,4.69,4.89,5.07,5.23,5.41,5.63,5.89,6.21,6.34]],
[4.49,[.03,.11,.41,.57,.73,.87,1.11,1.33,1.64,1.79,2.11,2.19,2.37,2.56,2.71,2.86,3.11,3.43,3.59,3.79,3.91,4.21,4.34,4.59,4.71,4.89,5.04,5.31,5.47,5.63,5.84,6.16,6.37]],
[4.41,[.01,.17,.43,.61,.81,1.17,1.39,1.54,1.73,1.91,2.19,2.37,2.56,2.61,2.79,3.01,3.31,3.47,3.73,3.84,4.13,4.31,4.53,4.67,4.93,5.11,5.31,5.54,5.79,5.91,6.11,6.27,6.43]],
[4.29,[.03,.14,.31,.44,.53,.71,.89,1.01,1.16,1.54,1.71,1.84,2.13,2.34,2.73,2.87,3.03,3.24,3.56,3.71,3.93,4.14,4.39,4.57,4.83,4.97,5.23,5.41,5.61,5.84,6.11,6.24,6.51]],
[4.21,[.16,.24,.46,.49,.63,.74,.96,1.17,1.59,1.74,1.89,2.04,2.39,2.61,2.86,3.01,3.43,3.61,3.83,4.07,4.29,4.41,4.63,4.77,4.99,5.09,5.26,5.54,5.79,5.97,6.13,6.39]],
[4.09,[.06,.17,.26,.34,.63,.91,1.03,1.19,1.53,1.61,1.76,1.94,2.19,2.31,2.51,2.71,2.86,3.04,3.19,3.29,3.53,3.71,3.86,4.04,4.29,4.49,4.73,4.87,5.13,5.31,5.53,5.71,5.96,6.09,6.36]],
[4.01,[.04,.11,.29,.37,.51,.71,.91,1.07,1.33,1.61,1.83,1.97,2.23,2.44,2.69,2.91,3.13,3.27,3.46,3.67,3.91,4.14,4.33,4.51,4.71,4.94,5.19,5.37,5.69,5.84,6.13,6.41]],
[3.89,[.03,.09,.21,.34,.56,.84,1.06,1.21,1.49,1.64,1.93,2.07,2.43,2.61,2.79,2.94,3.21,3.31,3.51,3.84,4.01,4.27,4.51,4.64,4.93,5.19,5.41,5.57,5.81,6.04,6.29,6.47]],
[3.81,[.01,.11,.27,.51,.71,.96,1.09,1.33,1.54,1.79,1.91,2.16,2.39,2.56,2.67,2.89,3.09,3.39,3.51,3.73,3.94,4.19,4.41,4.56,4.69,5.03,5.17,5.43,5.57,5.83,6.01,6.26,6.39]],
[3.69,[.03,.19,.41,.54,.71,.81,1.03,1.31,1.49,1.79,2.11,2.24,2.53,2.67,2.83,2.99,3.23,3.41,3.56,3.81,4.09,4.31,4.49,4.61,4.89,5.07,5.23,5.41,5.61,5.87,6.11,6.24,6.49]],
[3.61,[.03,.11,.31,.47,.63,.74,.96,1.21,1.43,1.61,1.83,1.94,2.11,2.61,2.86,2.99,3.21,3.37,3.59,3.74,3.99,4.21,4.43,4.61,4.79,4.97,5.16,5.31,5.49,5.61,5.83,6.01,6.31]],
[3.49,[.06,.19,.31,.41,.56,.71,.93,1.04,1.19,1.29,1.71,1.77,2.03,2.21,2.61,2.74,3.01,3.09,3.29,3.44,3.69,3.89,4.06,4.21,4.51,4.69,4.83,5.01,5.39,5.61,5.76,5.99,6.21,6.41]],
[3.41,[.01,.13,.34,.49,.69,.86,1.01,1.33,1.47,1.73,1.94,2.09,2.67,2.86,3.04,3.21,3.41,3.61,3.83,3.97,4.19,4.41,4.66,4.87,5.03,5.21,5.43,5.67,5.93,6.11,6.31,6.49]],
[3.29,[.03,.11,.31,.51,.73,.77,.96,1.04,1.36,1.59,1.81,1.91,2.11,2.61,2.73,2.97,3.11,3.27,3.56,3.71,3.93,4.11,4.29,4.61,4.91,5.07,5.26,5.37,5.56,5.77,5.96,6.17,6.43]],
[3.21,[.01,.19,.27,.59,.71,.89,1.04,1.21,1.44,1.63,1.84,2.19,2.57,2.76,3.04,3.16,3.29,3.43,3.61,3.83,3.99,4.16,4.31,4.63,4.91,5.21,5.39,5.61,5.81,6.06,6.21]],
[3.09,[.03,.11,.21,.37,.53,.71,.86,1.07,1.19,1.47,1.83,2.01,2.21,2.61,2.83,3.01,3.21,3.41,3.63,3.77,3.96,4.17,4.36,4.51,4.73,4.94,5.16,5.31,5.49,5.64,5.89,6.01,6.26,6.49]],
[3.01,[.01,.16,.21,.36,.49,.66,.79,1.21,1.59,1.73,1.97,2.16,2.67,2.83,2.97,3.13,3.31,3.51,3.67,3.91,4.01,4.13,4.29,4.49,4.67,4.91,5.14,5.39,5.51,5.73,5.94,6.19,6.31]],
[2.89,[.03,.07,.21,.34,.53,.71,.93,1.04,1.26,1.39,1.73,1.84,2.09,2.19,2.53,2.71,3.03,3.11,3.29,3.51,3.73,3.94,4.13,4.31,4.51,4.71,4.89,5.04,5.19,5.41,5.63,5.91,6.13,6.34]],
[2.81,[.09,.29,.44,.63,.79,1.11,1.41,1.61,1.74,1.99,2.14,2.39,2.51,2.66,2.91,3.16,3.44,3.69,3.89,4.21,4.41,4.63,4.77,4.96,5.11,5.33,5.51,5.73,5.91,6.19,6.47]],
[2.69,[.03,.11,.36,.47,.66,.84,1.06,1.19,1.39,1.54,1.79,2.04,2.23,2.41,2.66,2.79,3.01,3.21,3.39,3.59,3.83,4.09,4.29,4.47,4.73,4.87,5.16,5.29,5.51,5.69,5.96,6.19,6.39]],
[2.61,[.01,.13,.29,.43,.59,.73,.87,1.11,1.34,1.59,1.64,1.83,2.07,2.23,2.61,2.77,3.03,3.19,3.36,3.59,3.86,4.01,4.19,4.34,4.56,4.71,4.93,5.01,5.21,5.44,5.63,5.81,6.06,6.21,6.43]],
[2.49,[.03,.21,.33,.49,.79,1.01,1.19,1.41,1.71,1.91,2.06,2.17,2.36,2.61,2.87,3.06,3.21,3.43,3.69,3.93,4.09,4.36,4.51,4.73,4.94,5.19,5.31,5.49,5.71,5.93,6.09,6.31]],
[2.41,[.06,.17,.43,.54,.69,.87,1.06,1.27,1.56,1.71,1.91,2.11,2.29,2.41,2.56,2.69,2.86,3.01,3.29,3.51,3.71,3.94,4.23,4.37,4.56,4.69,4.86,5.01,5.26,5.41,5.69,5.89,6.06,6.29,6.43]],
[2.29,[.01,.21,.27,.53,.69,.99,1.09,1.41,1.61,1.79,1.99,2.19,2.29,2.49,2.61,2.81,2.91,3.21,3.39,3.59,3.79,3.99,4.17,4.33,4.61,4.89,5.11,5.26,5.41,5.61,5.79,6.01,6.21,6.46]],
[2.21,[.03,.09,.26,.47,.73,.84,1.01,1.24,1.36,1.54,1.71,1.91,2.11,2.29,2.53,2.71,2.89,2.99,3.26,3.41,3.63,3.91,4.09,4.29,4.56,4.77,4.99,5.09,5.33,5.54,5.73,5.94,6.21,6.47]],
[2.09,[.03,.11,.17,.43,.54,.73,.94,1.16,1.47,1.63,1.81,2.01,2.21,2.39,2.51,2.69,2.89,3.11,3.29,3.51,3.71,3.96,4.14,4.33,4.47,4.63,4.84,5.19,5.37,5.59,5.71,5.99,6.11,6.33,6.51]],
[2.01,[.01,.13,.29,.53,.71,.91,1.09,1.29,1.43,1.59,1.83,1.99,2.16,2.44,2.61,2.84,3.03,3.24,3.46,3.67,3.86,4.09,4.26,4.41,4.63,4.71,4.93,5.04,5.23,5.37,5.56,5.77,5.99,6.21,6.43]],
[1.89,[.03,.09,.23,.34,.59,.71,1.03,1.27,1.53,1.81,1.96,2.09,2.29,2.49,2.63,2.84,3.01,3.19,3.43,3.59,3.89,4.09,4.31,4.57,4.86,5.07,5.26,5.41,5.63,5.81,6.11,6.37]],
[1.81,[.11,.19,.41,.54,.73,.87,1.13,1.27,1.53,1.64,1.81,2.01,2.21,2.41,2.71,2.87,3.11,3.21,3.43,3.67,3.86,4.01,4.21,4.41,4.69,4.89,5.03,5.17,5.41,5.54,5.73,5.89,6.06,6.24]],
[1.69,[.06,.11,.29,.44,.63,.77,.96,1.11,1.31,1.47,1.69,1.84,2.06,2.29,2.53,2.77,2.96,3.11,3.26,3.41,3.71,3.91,4.09,4.24,4.46,4.57,4.73,4.87,5.03,5.19,5.43,5.57,5.83,6.01,6.26,6.41]],
[1.61,[.04,.21,.37,.53,.71,.96,1.11,1.31,1.47,1.66,1.84,2.01,2.17,2.33,2.47,2.69,2.87,3.03,3.21,3.43,3.61,3.81,3.97,4.19,4.29,4.53,4.61,4.76,4.97,5.16,5.37,5.53,5.71,5.96,6.14,6.41]],
[1.49,[.03,.11,.26,.44,.61,.77,1.01,1.26,1.61,1.91,2.11,2.29,2.46,2.61,2.79,3.01,3.26,3.41,3.61,3.77,3.93,4.14,4.33,4.61,4.91,5.04,5.21,5.37,5.53,5.69,5.93,6.09,6.29,6.49]],
[1.41,[.01,.06,.29,.53,.71,.91,1.09,1.33,1.51,1.63,1.81,1.99,2.11,2.29,2.41,2.56,2.69,2.83,2.99,3.16,3.37,3.56,3.67,3.86,3.97,4.16,4.41,4.63,4.77,4.99,5.17,5.33,5.51,5.73,5.87,6.06,6.27,6.49]],
[1.29,[.03,.07,.33,.71,.93,1.01,1.21,1.51,1.66,1.97,2.16,2.34,2.51,2.71,2.93,3.09,3.29,3.41,3.66,3.84,4.11,4.29,4.53,4.61,4.76,4.91,5.13,5.31,5.56,5.74,5.99,6.21,6.43]],
[1.21,[.11,.33,.56,.71,.86,1.01,1.31,1.54,1.71,1.91,2.11,2.24,2.43,2.71,2.89,3.07,3.23,3.37,3.63,3.77,3.93,4.11,4.36,4.61,4.81,5.01,5.23,5.37,5.56,5.71,5.96,6.21,6.36]],
[1.09,[.43,.61,.89,1.01,1.33,1.47,1.73,1.89,2.16,2.31,2.49,2.61,2.79,2.94,3.13,3.29,3.53,3.69,3.93,4.11,4.29,4.44,4.61,4.81,4.91,5.11,5.29,5.51,5.71,5.91,6.11,6.31,6.47]],
[1.01,[.11,.49,.63,.84,1.09,1.24,1.46,1.59,1.79,2.11,2.31,2.47,2.69,2.81,3.01,3.21,3.46,3.61,3.86,4.01,4.23,4.39,4.59,4.71,4.89,5.04,5.26,5.41,5.66,5.84,6.03,6.21,6.39,6.47]],
[.89,[.46,.64,.89,1.04,1.29,1.47,1.63,1.81,2.01,2.19,2.39,2.54,2.79,2.91,3.06,3.21,3.43,3.59,3.79,3.99,4.21,4.31,4.49,4.61,4.81,4.91,5.11,5.31,5.59,5.74,5.99,6.14,6.36,6.49]],
[.81,[.06,.33,.51,.71,.91,1.11,1.29,1.49,1.71,1.93,2.09,2.26,2.41,2.63,2.84,3.03,3.24,3.43,3.57,3.73,3.91,4.16,4.37,4.56,4.71,4.86,5.01,5.19,5.39,5.59,5.81,6.06,6.19,6.46]],
[.69,[.03,.11,.43,.66,.84,1.03,1.21,1.46,1.61,1.83,2.04,2.26,2.47,2.63,2.81,3.01,3.21,3.49,3.67,3.89,4.07,4.26,4.39,4.63,4.77,5.01,5.19,5.39,5.54,5.71,5.91,6.11,6.29,6.41]],
[.61,[.01,.06,.17,.33,.51,.84,1.06,1.19,1.39,1.54,1.83,1.94,2.13,2.29,2.51,2.71,2.91,3.07,3.33,3.54,3.76,3.91,4.06,4.17,4.36,4.57,4.76,4.91,5.09,5.21,5.46,5.69,5.89,6.01,6.29,6.49]],
[.49,[.06,.11,.23,.44,.73,.87,1.09,1.21,1.51,1.71,1.93,2.11,2.29,2.41,2.63,2.79,3.03,3.17,3.33,3.51,3.73,3.89,4.09,4.27,4.46,4.61,4.83,4.97,5.13,5.29,5.46,5.67,5.86,6.01,6.19,6.37,6.49]],
[.41,[.07,.16,.21,.31,.61,.86,.97,1.19,1.41,1.71,1.94,2.13,2.21,2.46,2.64,2.83,2.97,3.21,3.34,3.59,3.71,3.93,4.11,4.33,4.49,4.69,4.91,5.06,5.21,5.43,5.61,5.79,5.89,6.09,6.24,6.43]],
[.29,[.06,.11,.21,.41,.61,.77,.93,1.09,1.31,1.51,1.73,1.97,2.16,2.27,2.53,2.71,2.89,3.07,3.23,3.37,3.56,3.71,3.96,4.11,4.33,4.47,4.63,4.79,5.03,5.21,5.49,5.67,5.83,5.99,6.16,6.29,6.49]],
[.21,[.01,.09,.19,.34,.63,.79,.99,1.21,1.49,1.61,1.79,2.01,2.26,2.34,2.53,2.67,2.96,3.11,3.33,3.47,3.63,3.81,3.99,4.21,4.43,4.54,4.76,4.91,5.09,5.27,5.46,5.59,5.79,5.94,6.13,6.31,6.51]],
[.09,[.03,.11,.26,.41,.56,.71,.86,1.09,1.46,1.51,1.73,1.84,2.03,2.19,2.31,2.41,2.56,2.71,2.86,3.01,3.23,3.37,3.53,3.69,3.86,4.04,4.26,4.41,4.63,4.81,5.06,5.21,5.43,5.64,5.83,5.91,6.13,6.27,6.46]],
[.01,[.07,.26,.41,.56,.69,.86,1.44,1.53,1.69,1.86,2.01,2.26,2.51,2.91,3.03,3.34,3.81,3.96,4.04,4.33,4.49,4.71,5.04,5.21,5.44,5.76,6.01,6.23,6.41]]];

const diagonalScatter = [[6.53,[.23,.57,.73,1.01,1.16,1.59,1.71,1.79,2.21,2.39,2.61,3.26,3.71,3.94,4.31,4.56,5.11,5.54,5.79,6.09,6.37]],
[6.41,[.06,.19,.39,.51,.71,.91,1.03,1.34,1.49,1.64,1.77,2.13,2.26,2.41,2.59,2.71,2.89,3.03,3.34,3.49,3.71,3.89,4.01,4.19,4.41,4.63,4.71,4.89,5.09,5.23,5.41,5.61,5.96,6.19,6.29,6.51]],
[6.33,[.04,.19,.34,.49,.66,.71,.81,1.01,1.36,1.54,1.86,2.11,2.29,2.41,2.61,2.79,3.01,3.19,3.27,3.56,3.64,3.73,3.91,4.31,4.41,4.56,4.69,4.87,5.13,5.31,5.41,5.61,5.77,6.01,6.41]],
[6.21,[.17,.33,.49,.67,.93,1.01,1.31,1.39,1.63,1.79,2.19,2.26,2.49,2.64,2.81,3.01,3.26,3.37,3.66,3.81,3.99,4.14,4.36,4.56,4.79,5.06,5.19,5.39,5.59,5.86,6.01,6.21,6.36]],
[6.13,[.03,.09,.37,.53,.61,.91,1.06,1.19,1.33,1.47,1.71,2.11,2.36,2.54,2.71,2.91,3.07,3.29,3.44,3.76,3.89,4.09,4.21,4.43,4.71,5.09,5.23,5.41,5.63,5.74,5.97,6.21,6.39]],
[6.01,[.06,.17,.29,.41,.63,.71,1.03,1.27,1.43,1.61,1.81,1.97,2.21,2.34,2.43,2.76,2.91,3.19,3.41,3.66,3.79,4.03,4.29,4.53,4.71,4.86,5.01,5.31,5.57,5.73,5.89,6.03,6.29,6.43]],
[5.93,[.09,.23,.31,.44,.61,.93,1.09,1.36,1.51,1.76,2.06,2.27,2.53,2.61,2.73,2.89,3.21,3.37,3.56,3.71,3.91,4.06,4.19,4.39,4.51,4.63,4.81,5.01,5.27,5.46,5.61,5.79,5.94,6.16,6.29]],
[5.81,[.21,.27,.41,.61,.73,1.06,1.11,1.29,1.54,1.89,2.13,2.31,2.49,2.67,2.96,3.04,3.21,3.37,3.59,3.71,4.01,4.23,4.41,4.63,4.77,4.89,5.04,5.19,5.39,5.56,5.81,6.03,6.17,6.43]],
[5.73,[.21,.31,.44,.63,.84,1.01,1.17,1.43,1.61,1.81,2.04,2.19,2.34,2.56,2.69,2.91,3.16,3.27,3.51,3.67,3.89,4.04,4.19,4.37,4.53,4.74,4.97,5.16,5.37,5.61,5.77,5.93,6.11,6.29,6.47]],
[5.61,[.19,.27,.63,.71,.91,1.06,1.31,1.49,1.64,1.79,1.97,2.26,2.41,2.56,2.71,2.91,3.07,3.23,3.44,3.69,3.81,3.99,4.14,4.31,4.57,4.71,4.97,5.06,5.21,5.43,5.59,5.73,5.94,6.09,6.29,6.51]],
[5.53,[.07,.23,.47,.61,.71,.86,1.09,1.31,1.51,1.73,1.84,2.06,2.27,2.41,2.51,2.64,2.83,2.97,3.19,3.41,3.61,3.71,3.93,4.09,4.36,4.54,4.71,4.91,5.04,5.26,5.49,5.63,5.79,5.99,6.19,6.43]],
[5.41,[.11,.27,.53,.66,.77,.93,1.11,1.36,1.59,1.76,1.89,2.11,2.29,2.43,2.61,2.86,3.04,3.21,3.51,3.71,3.96,4.07,4.23,4.44,4.61,4.91,5.01,5.19,5.34,5.51,5.64,5.86,6.04,6.23,6.47]],
[5.33,[.09,.49,.71,.91,1.17,1.43,1.64,1.93,2.07,2.29,2.47,2.71,2.79,3.01,3.23,3.37,3.61,3.76,3.97,4.13,4.29,4.51,4.67,4.89,5.11,5.39,5.57,5.73,5.89,6.03,6.19,6.33]],
[5.21,[.07,.36,.44,.73,1.01,1.27,1.43,1.64,1.83,2.01,2.21,2.43,2.61,2.79,2.97,3.16,3.34,3.51,3.64,3.81,3.99,4.16,4.31,4.56,4.71,4.99,5.11,5.29,5.47,5.71,5.87,6.06,6.27]],
[5.13,[.04,.23,.49,.71,.96,1.21,1.43,1.56,1.69,1.89,2.04,2.16,2.31,2.54,2.71,2.96,3.09,3.26,3.44,3.63,3.77,3.96,4.21,4.36,4.51,4.71,4.91,5.23,5.41,5.61,5.77,6.01,6.14,6.41]],
[5.01,[.03,.17,.41,.63,.81,1.23,1.37,1.51,1.61,1.81,2.11,2.29,2.46,2.61,2.83,3.07,3.29,3.51,3.71,3.89,4.13,4.31,4.51,4.71,4.89,5.04,5.29,5.41,5.63,5.81,6.03,6.17,6.36]],
[4.93,[.11,.44,.57,.71,.91,1.01,1.33,1.49,1.76,1.94,2.16,2.34,2.51,2.64,2.79,2.97,3.23,3.41,3.56,3.71,3.93,4.04,4.21,4.39,4.59,4.69,4.93,5.11,5.36,5.54,5.69,5.89,6.13,6.27,6.49]],
[4.81,[.31,.49,.61,.73,.87,1.13,1.29,1.43,1.71,1.91,2.06,2.21,2.41,2.59,2.74,2.89,3.11,3.33,3.47,3.66,3.84,4.11,4.26,4.41,4.61,4.86,4.97,5.21,5.31,5.56,5.71,5.97,6.21,6.39]],
[4.73,[.29,.47,.63,.77,.91,1.04,1.31,1.43,1.69,1.89,2.04,2.29,2.49,2.73,2.97,3.21,3.41,3.66,3.77,3.96,4.17,4.33,4.47,4.69,4.84,5.03,5.19,5.41,5.61,5.86,6.01,6.19,6.31,6.49]],
[4.61,[.31,.51,.71,.87,1.19,1.31,1.51,1.64,1.81,2.01,2.26,2.37,2.56,2.71,2.91,3.04,3.23,3.37,3.56,3.71,3.96,4.11,4.33,4.49,4.71,4.84,5.06,5.17,5.33,5.54,5.73,5.89,6.09,6.29]],
[4.53,[.14,.23,.47,.73,.84,1.03,1.11,1.29,1.57,1.76,1.91,2.11,2.21,2.41,2.61,2.83,2.97,3.13,3.29,3.49,3.71,3.91,4.04,4.23,4.44,4.63,4.81,4.99,5.11,5.31,5.51,5.73,5.97,6.16,6.37]],
[4.41,[.16,.19,.43,.51,.73,.81,1.03,1.27,1.43,1.61,1.86,1.97,2.13,2.29,2.43,2.59,2.81,3.01,3.21,3.37,3.56,3.71,3.93,4.14,4.36,4.54,4.79,4.94,5.11,5.37,5.53,5.77,5.93,6.01,6.26,6.39]],
[4.33,[.17,.49,.61,.93,1.07,1.31,1.51,1.64,1.89,1.99,2.21,2.43,2.61,2.73,2.91,3.13,3.29,3.49,3.67,3.86,4.01,4.26,4.39,4.59,4.71,4.89,5.07,5.31,5.47,5.73,5.89,6.11,6.29,6.49]],
[4.21,[.09,.43,.51,.76,.84,1.03,1.17,1.53,1.67,1.86,2.11,2.33,2.47,2.61,2.77,2.99,3.17,3.36,3.44,3.63,3.81,3.99,4.11,4.31,4.54,4.81,4.97,5.16,5.29,5.49,5.71,5.91,6.04,6.29]],
[4.13,[.03,.31,.46,.77,.86,1.21,1.43,1.59,1.83,1.94,2.11,2.21,2.41,2.51,2.71,2.81,3.11,3.29,3.46,3.67,3.83,4.01,4.23,4.37,4.53,4.69,4.89,5.07,5.21,5.41,5.63,5.79,5.99,6.11,6.36]],
[4.01,[.06,.14,.43,.71,.99,1.07,1.23,1.51,1.61,1.79,2.01,2.23,2.44,2.63,2.77,2.96,3.14,3.31,3.51,3.73,3.89,4.11,4.31,4.49,4.71,4.86,5.01,5.16,5.31,5.56,5.71,5.93,6.04,6.29,6.41]],
[3.93,[.09,.51,.73,1.01,1.21,1.31,1.51,1.73,1.87,2.01,2.17,2.36,2.47,2.63,2.87,3.11,3.21,3.39,3.59,3.79,3.91,4.11,4.27,4.43,4.61,4.83,4.99,5.19,5.34,5.59,5.74,5.99,6.19,6.39]],
[3.81,[.13,.31,.46,.61,.89,1.11,1.33,1.57,1.73,1.97,2.16,2.31,2.49,2.64,2.89,3.01,3.21,3.34,3.56,3.67,3.93,4.04,4.26,4.39,4.56,4.71,4.99,5.14,5.31,5.44,5.69,5.81,6.03,6.17,6.49]],
[3.73,[.11,.29,.53,.61,.93,1.19,1.41,1.54,1.76,1.91,2.09,2.24,2.46,2.59,2.79,2.94,3.13,3.31,3.53,3.71,3.86,4.01,4.19,4.37,4.51,4.61,4.89,5.04,5.19,5.31,5.56,5.71,5.93,6.04,6.31,6.41]],
[3.61,[.03,.11,.36,.57,.69,.97,1.13,1.29,1.53,1.71,1.89,2.11,2.29,2.44,2.59,2.71,2.93,3.14,3.29,3.41,3.63,3.81,3.99,4.11,4.33,4.47,4.73,4.91,5.13,5.29,5.46,5.61,5.86,6.01,6.19,6.37]],
[3.53,[.01,.13,.21,.43,.71,.99,1.11,1.31,1.47,1.63,1.77,2.01,2.17,2.33,2.47,2.63,2.79,3.03,3.19,3.39,3.51,3.73,3.91,4.09,4.21,4.36,4.61,4.86,5.01,5.19,5.37,5.53,5.71,5.96,6.11,6.31,6.47]],
[3.41,[.06,.17,.33,.51,.69,.87,1.06,1.21,1.43,1.61,1.83,2.01,2.13,2.29,2.43,2.59,2.76,2.91,3.09,3.29,3.51,3.61,3.86,3.99,4.19,4.41,4.56,4.69,4.93,5.09,5.31,5.51,5.66,5.81,6.06,6.29,6.49]],
[3.33,[.07,.21,.41,.61,.74,.99,1.24,1.39,1.54,1.79,1.87,2.01,2.19,2.43,2.54,2.73,2.89,3.13,3.27,3.49,3.64,3.86,4.01,4.21,4.37,4.56,4.77,4.99,5.11,5.33,5.47,5.63,5.77,5.96,6.11,6.39]],
[3.21,[.06,.17,.33,.44,.63,.71,.96,1.19,1.41,1.57,1.73,1.84,2.06,2.19,2.41,2.59,2.79,2.94,3.21,3.34,3.56,3.71,3.89,4.07,4.29,4.44,4.66,4.81,5.03,5.19,5.39,5.51,5.69,5.91,6.11,6.27,6.43]],
[3.13,[.03,.14,.26,.47,.73,.94,1.13,1.41,1.56,1.69,1.83,2.01,2.19,2.29,2.43,2.64,2.79,2.89,3.09,3.27,3.43,3.61,3.79,3.94,4.13,4.21,4.43,4.61,4.73,4.94,5.11,5.27,5.49,5.69,5.89,6.07,6.23,6.37]],
[3.01,[.06,.19,.36,.61,.86,1.04,1.21,1.57,1.71,1.89,2.11,2.27,2.46,2.59,2.76,2.94,3.13,3.29,3.49,3.69,3.89,4.01,4.29,4.41,4.56,4.77,4.93,5.04,5.33,5.51,5.63,5.79,6.01,6.19,6.43]],
[2.93,[.04,.16,.24,.43,.61,.86,1.21,1.36,1.49,1.66,1.87,2.06,2.19,2.41,2.54,2.73,2.97,3.21,3.41,3.61,3.77,3.91,4.14,4.33,4.47,4.63,4.74,4.89,5.11,5.31,5.47,5.69,5.84,6.01,6.11,6.33]],
[2.81,[.19,.31,.49,.64,.73,.87,1.03,1.19,1.36,1.49,1.73,1.94,2.13,2.27,2.43,2.61,2.89,3.09,3.33,3.49,3.73,3.97,4.13,4.27,4.51,4.67,4.83,4.97,5.21,5.37,5.56,5.74,5.93,6.09,6.31,6.41]],
[2.73,[.17,.31,.47,.61,.69,.91,1.09,1.23,1.37,1.51,1.61,1.81,1.94,2.13,2.34,2.51,2.67,2.83,3.01,3.23,3.41,3.59,3.77,3.93,4.09,4.29,4.41,4.59,4.81,5.03,5.21,5.39,5.49,5.73,5.89,6.06,6.21,6.49]],
[2.61,[.03,.11,.23,.31,.43,.57,.69,.81,1.03,1.14,1.33,1.47,1.63,1.77,1.99,2.17,2.39,2.51,2.71,2.91,3.06,3.21,3.39,3.51,3.73,3.94,4.13,4.34,4.53,4.69,4.89,5.04,5.19,5.29,5.49,5.64,5.86,6.01,6.19,6.41]],
[2.53,[.06,.14,.31,.41,.66,.71,.89,1.07,1.21,1.44,1.63,1.84,2.03,2.17,2.41,2.59,2.71,2.89,3.04,3.26,3.44,3.61,3.79,3.99,4.21,4.43,4.54,4.73,4.87,5.03,5.21,5.41,5.54,5.69,5.81,5.99,6.11,6.33,6.49]],
[2.41,[.03,.09,.19,.39,.61,.71,1.03,1.14,1.31,1.47,1.73,1.91,2.09,2.27,2.53,2.67,2.86,3.01,3.16,3.34,3.53,3.71,3.89,4.07,4.26,4.37,4.56,4.71,4.99,5.17,5.33,5.54,5.79,6.01,6.21,6.41]],
[2.33,[.11,.31,.41,.63,.74,.91,1.04,1.29,1.44,1.63,1.77,1.96,2.21,2.46,2.59,2.79,2.91,3.11,3.29,3.43,3.61,3.83,3.97,4.13,4.29,4.51,4.64,4.83,5.04,5.21,5.41,5.61,5.71,5.93,6.09,6.26,6.41]],
[2.21,[.09,.33,.41,.53,.71,.83,1.04,1.23,1.34,1.63,1.77,1.91,2.07,2.33,2.47,2.63,2.84,3.06,3.21,3.46,3.57,3.73,3.89,4.06,4.21,4.49,4.61,4.83,5.01,5.19,5.29,5.53,5.71,5.96,6.17,6.39]],
[2.13,[.19,.31,.53,.61,.73,.84,1.03,1.19,1.39,1.57,1.69,1.84,2.03,2.24,2.43,2.61,2.81,2.94,3.13,3.27,3.46,3.64,3.86,4.01,4.23,4.39,4.59,4.69,4.93,5.11,5.33,5.49,5.71,5.87,6.03,6.21,6.43]],
[2.01,[.14,.26,.41,.51,.64,.83,.97,1.13,1.27,1.49,1.71,1.86,2.04,2.19,2.31,2.51,2.61,2.83,3.01,3.21,3.37,3.56,3.77,3.99,4.14,4.33,4.49,4.71,4.84,5.01,5.14,5.39,5.54,5.71,5.81,5.96,6.17,6.39]],
[1.93,[.06,.19,.39,.54,.71,.91,1.11,1.27,1.43,1.59,1.79,2.01,2.23,2.41,2.63,2.79,2.96,3.11,3.36,3.54,3.71,3.91,4.11,4.34,4.56,4.67,4.86,5.01,5.21,5.41,5.59,5.74,5.93,6.07,6.33,6.49]],
[1.81,[.21,.31,.43,.57,.79,.97,1.16,1.34,1.59,1.74,1.96,2.14,2.31,2.47,2.63,2.77,2.93,3.14,3.33,3.54,3.73,3.84,4.03,4.19,4.43,4.57,4.73,4.89,5.13,5.29,5.43,5.61,5.76,5.99,6.19,6.34]],
[1.73,[.07,.23,.34,.49,.71,.89,1.04,1.26,1.44,1.61,1.77,2.01,2.21,2.39,2.51,2.73,2.87,3.03,3.24,3.43,3.61,3.81,4.01,4.19,4.31,4.51,4.67,4.86,5.04,5.21,5.34,5.56,5.71,5.93,6.11,6.31,6.44]],
[1.61,[.06,.11,.33,.44,.61,.74,.93,1.11,1.31,1.41,1.63,1.81,1.99,2.14,2.36,2.57,2.73,2.89,3.11,3.27,3.43,3.57,3.76,3.94,4.11,4.31,4.56,4.71,4.93,5.09,5.29,5.41,5.61,5.84,6.03,6.21,6.43]],
[1.53,[.09,.26,.49,.73,.97,1.13,1.31,1.56,1.71,1.99,2.19,2.43,2.54,2.69,2.84,2.99,3.21,3.43,3.61,3.79,3.97,4.13,4.29,4.51,4.61,4.79,4.87,5.06,5.21,5.39,5.51,5.76,5.97,6.19,6.37]],
[1.41,[.13,.27,.43,.69,.86,.99,1.21,1.37,1.56,1.71,1.96,2.14,2.36,2.61,2.79,2.91,3.21,3.34,3.53,3.71,3.86,4.04,4.23,4.39,4.59,4.71,4.96,5.11,5.31,5.47,5.63,5.81,5.96,6.17,6.36,6.49]],
[1.33,[.04,.19,.29,.63,.74,.93,1.11,1.29,1.44,1.61,1.84,2.01,2.21,2.43,2.54,2.73,2.91,3.09,3.24,3.43,3.61,3.83,3.97,4.13,4.27,4.49,4.67,4.81,5.01,5.19,5.31,5.53,5.71,5.96,6.11,6.29,6.49]],
[1.21,[.03,.17,.51,.71,.96,1.14,1.33,1.54,1.73,1.87,2.13,2.31,2.51,2.61,2.81,2.99,3.13,3.29,3.56,3.74,3.96,4.21,4.43,4.54,4.71,4.87,5.03,5.17,5.33,5.51,5.69,5.81,6.06,6.21,6.43]],
[1.13,[.11,.31,.44,.71,.89,1.03,1.19,1.46,1.61,1.73,1.91,2.13,2.29,2.49,2.61,2.83,2.99,3.21,3.37,3.56,3.71,3.93,4.14,4.36,4.57,4.73,4.87,5.13,5.29,5.46,5.61,5.83,5.99,6.19,6.34]],
[1.01,[.13,.31,.53,.69,.89,1.04,1.23,1.39,1.56,1.69,1.93,2.14,2.29,2.47,2.71,2.91,3.11,3.24,3.43,3.61,3.83,3.97,4.19,4.29,4.49,4.67,4.86,4.99,5.23,5.39,5.61,5.79,5.96,6.09,6.31,6.47]],
[.93,[.03,.09,.21,.44,.63,.81,.99,1.11,1.29,1.51,1.73,1.89,2.06,2.21,2.39,2.54,2.73,2.89,3.13,3.29,3.43,3.61,3.81,3.94,4.13,4.34,4.49,4.71,4.93,5.09,5.29,5.41,5.66,5.84,6.03,6.21,6.43]],
[.81,[.11,.17,.33,.51,.73,.89,1.06,1.19,1.46,1.64,1.83,1.97,2.13,2.31,2.56,2.71,2.89,3.01,3.21,3.44,3.63,3.84,4.06,4.21,4.43,4.54,4.71,4.91,5.09,5.27,5.43,5.61,5.79,5.99,6.13,6.29,6.49]],
[.73,[.07,.21,.37,.63,.77,.99,1.14,1.36,1.54,1.73,2.01,2.23,2.39,2.56,2.71,2.86,3.04,3.26,3.39,3.56,3.71,3.93,4.11,4.31,4.49,4.66,4.81,5.01,5.14,5.33,5.47,5.63,5.79,5.99,6.21,6.46]],
[.61,[.03,.17,.33,.51,.73,.91,1.13,1.31,1.51,1.69,1.86,2.01,2.19,2.37,2.51,2.61,2.81,2.97,3.16,3.29,3.43,3.59,3.83,4.01,4.19,4.37,4.56,4.69,4.86,5.04,5.23,5.41,5.63,5.81,6.03,6.17,6.39]],
[.53,[.07,.29,.41,.63,.84,1.01,1.11,1.33,1.51,1.69,1.81,2.01,2.21,2.43,2.61,2.81,2.97,3.16,3.29,3.51,3.71,3.99,4.11,4.36,4.49,4.63,4.84,5.03,5.17,5.36,5.49,5.69,5.87,6.06,6.19,6.43,6.51]],
[.41,[.04,.13,.21,.36,.54,.73,.94,1.11,1.29,1.46,1.59,1.76,1.99,2.19,2.27,2.39,2.51,2.73,2.87,3.13,3.29,3.51,3.61,3.79,3.91,4.09,4.24,4.41,4.61,4.79,4.91,5.09,5.21,5.43,5.59,5.79,5.94,6.13,6.31,6.51]],
[.33,[.14,.31,.47,.73,.84,1.03,1.19,1.41,1.61,1.79,1.94,2.06,2.19,2.36,2.54,2.69,2.81,3.03,3.17,3.36,3.54,3.69,3.84,4.03,4.19,4.39,4.54,4.69,4.81,5.01,5.11,5.31,5.51,5.66,5.81,5.99,6.14,6.31,6.47]],
[.21,[.11,.21,.39,.61,.79,.97,1.09,1.34,1.53,1.64,1.83,1.97,2.13,2.21,2.41,2.57,2.69,2.84,3.01,3.19,3.36,3.51,3.71,3.84,3.99,4.17,4.43,4.59,4.76,4.91,5.06,5.21,5.36,5.51,5.69,5.81,5.96,6.09,6.29,6.51]],
[.13,[.03,.11,.21,.34,.73,1.01,1.21,1.49,1.61,1.73,2.04,2.21,2.34,2.46,2.54,2.69,2.81,3.06,3.17,3.33,3.49,3.73,3.84,3.96,4.21,4.36,4.49,4.73,4.91,5.13,5.24,5.43,5.54,5.73,5.89,6.06,6.19,6.43]],
[.01,[.06,.29,.43,.51,.69,.91,1.16,1.37,1.73,1.81,2.03,2.09,2.23,2.34,2.49,2.71,2.96,3.21,3.63,3.84,4.03,4.19,4.63,4.77,5.03,5.21,5.51,5.71,5.86,5.97,6.23,6.39]]];

const marker = 6.5;
const halo = 16;
const markerColor = "#156dae";
const haloColor = "#edfaff";
const axisColor = "#262626";
const labelColor = "#404040";

const top_ = [101.4, 654, 1207];
const plotHeight = 357;
const leftRange = [89, 1382];
const rightRange = [1792, 3085];

// flatten the column/row tables to [x, y]
const fromColumns = cols => cols.flatMap(([x, ys]) => ys.map(y => [x, y]));
const fromRows = rows => rows.flatMap(([y, xs]) => xs.map(x => [x, y]));

const leftSeries = [
    fromColumns(horizontalBand).concat(horizontalStray),
    fromColumns(verticalBand).concat(verticalStray),
    fromColumns(diagonalBand).concat(diagonalStray)
];
const rightSeries = [horizontalScatter, verticalScatter, diagonalScatter].map(fromRows);

const svg = d3.select("#chart");

const drawExponent = (x, baseline) => {
    const g = svg.append("g").attr("fill", labelColor).attr("font-size", 34);
    g.append("text").attr("x", x).attr("y", baseline).attr("fill", "#606060").text("×");
    g.append("text").attr("x", x + 29).attr("y", baseline).text("10");
    g.append("text").attr("x", x + 70).attr("y", baseline - 17).attr("font-size", 28).text("4");
};

const drawPanel = (range, top, title, points, xTicks, yTicks) => {
    const x = d3.scaleLinear().domain(d3.extent(xTicks)).range(range);
    const y = d3.scaleLinear().domain(d3.extent(yTicks)).range([top + plotHeight, top]);

    svg.append("g").selectAll("rect")
        .data(points)
        .join("rect")
        .attr("x", d => x(d[0]) - halo / 2)
        .attr("y", d => y(d[1]) - halo / 2)
        .attr("width", halo)
        .attr("height", halo)
        .attr("fill", haloColor);

    svg.append("g").selectAll("rect")
        .data(points)
        .join("rect")
        .attr("x", d => x(d[0]) - marker / 2)
        .attr("y", d => y(d[1]) - marker / 2)
        .attr("width", marker)
        .attr("height", marker)
        .attr("fill", markerColor);

    const xAxis = d3.axisBottom(x).tickValues(xTicks).tickSizeInner(-12).tickSizeOuter(0).tickPadding(31).tickFormat(d3.format("d"));
    const yAxis = d3.axisLeft(y).tickValues(yTicks).tickSizeInner(-12).tickSizeOuter(0).tickPadding(18).tickFormat(d3.format("d"));

    const xG = svg.append("g").attr("transform", `translate(0,${top + plotHeight})`).call(xAxis);
    const yG = svg.append("g").attr("transform", `translate(${range[0]},0)`).call(yAxis);

    [xG, yG].forEach(g => {
        g.selectAll("path, line").attr("stroke", axisColor).attr("stroke-width", 2);
        g.selectAll("text").attr("fill", labelColor).attr("font-size", 34).attr("font-family", "Liberation Sans");
    });
    yG.selectAll("text").attr("dy", "0.5em");

    svg.append("text")
        .attr("x", (range[0] + range[1]) / 2)
        .attr("y", top - 21)
        .attr("text-anchor", "middle")
        .attr("font-size", 41)
        .attr("font-weight", "bold")
        .attr("fill", "#000")
        .text(title);

    drawExponent(range[0] + 3, top - 10.4);
    drawExponent(range[1] - 87, top + plotHeight + 119.5);
};

titles.forEach((title, i) => {
    drawPanel(leftRange, top_[i], title, leftSeries[i], leftXTicks, leftYTicks);
    drawPanel(rightRange, top_[i], title, rightSeries[i], rightXTicks, rightYTicks);
});
</script>
</body>
</html>
